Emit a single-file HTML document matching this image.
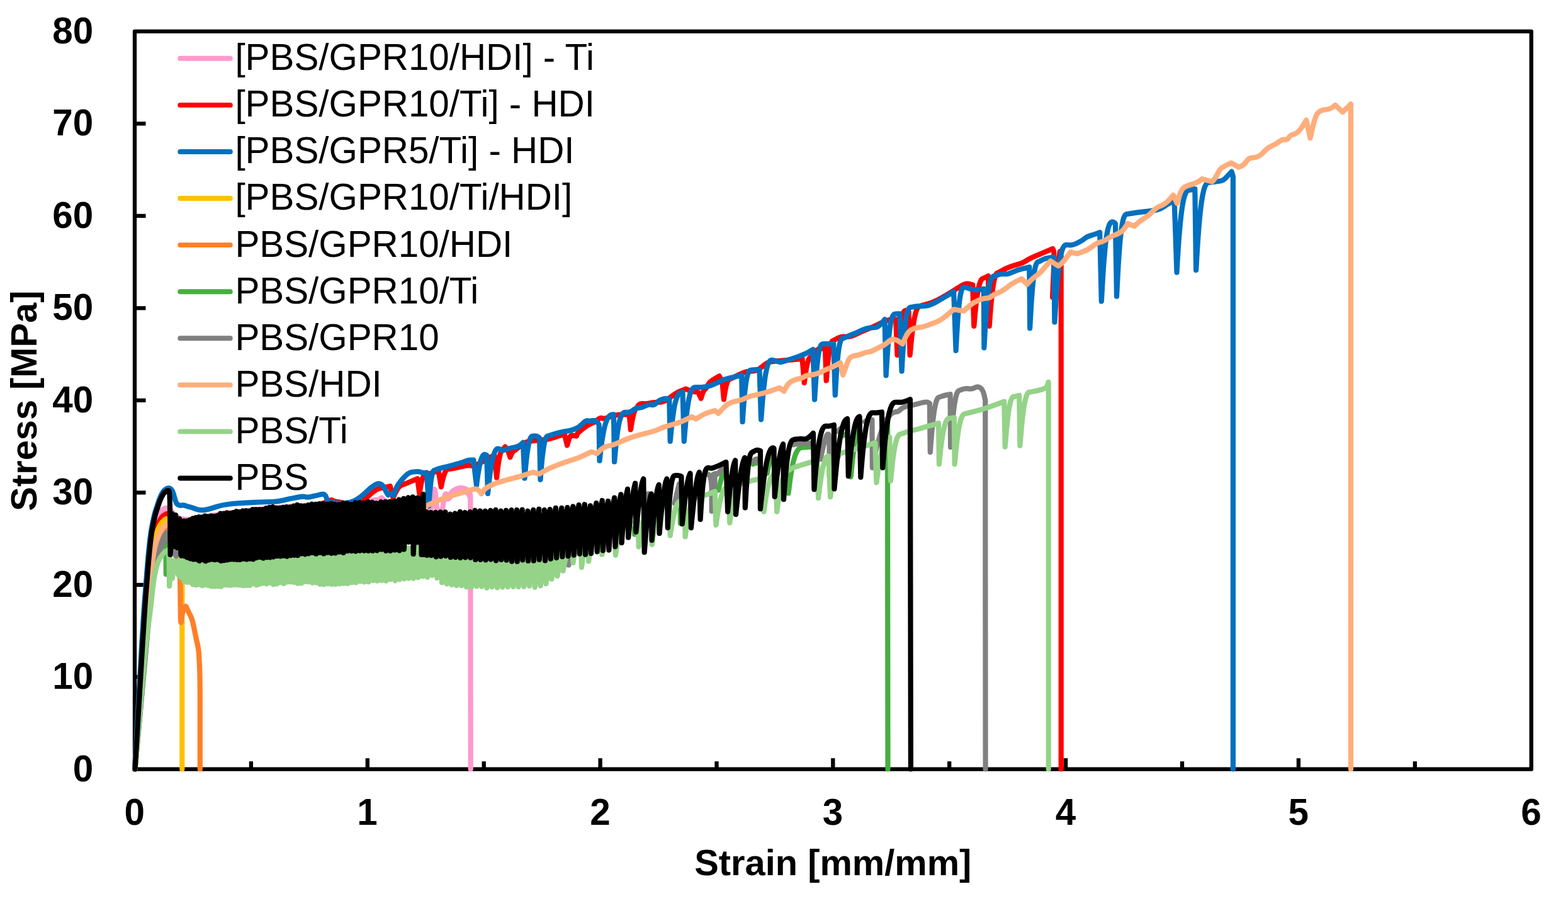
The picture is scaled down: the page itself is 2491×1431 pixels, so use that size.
<!DOCTYPE html>
<html lang="en">
<head>
<meta charset="utf-8">
<title>Stress-strain curves</title>
<style>
html,body{margin:0;padding:0;background:#fff;}
body{width:2491px;height:1431px;overflow:hidden;}
svg{display:block;}
text{font-family:"Liberation Sans",Arial,Helvetica,sans-serif;font-size:58.33px;fill:#000;}
.b{font-weight:bold;}
.t{font-size:57.8px;}
.c{fill:none;stroke-width:8.2;stroke-linejoin:round;stroke-linecap:round;}
.lg{stroke-width:7.9px;}
.ax{fill:none;stroke:#000;stroke-width:6.3;stroke-linejoin:round;stroke-linecap:butt;}
</style>
</head>
<body>
<svg width="2491" height="1431" viewBox="0 0 2491 1431">
<rect x="0" y="0" width="2491" height="1431" fill="#fff"/>
<g id="axes">
<rect class="ax" x="214.0" y="49.9" width="2218.7" height="1171.8"/>
<path class="ax" d="M214.0 1075.2H231.5M214.0 928.8H231.5M214.0 782.3H231.5M214.0 635.8H231.5M214.0 489.3H231.5M214.0 342.9H231.5M214.0 196.4H231.5M398.9 1221.7V1209.2M583.8 1221.7V1204.2M768.7 1221.7V1209.2M953.6 1221.7V1204.2M1138.5 1221.7V1209.2M1323.3 1221.7V1204.2M1508.2 1221.7V1209.2M1693.1 1221.7V1204.2M1878.0 1221.7V1209.2M2062.9 1221.7V1204.2M2247.8 1221.7V1209.2"/>
</g>
<g id="series">
<path class="c" stroke="#FF99CC" d="M214.5 1221.5Q229 960 232.5 930Q236 900 238 880Q240 860 242.5 847.5Q245 835 248 826.5Q251 818 254.5 813.5Q258 809 261.5 807.5Q265 806 268 808Q271 810 275.5 815.5Q280 821 287.5 823.8Q295 826.5 309 823.8Q323 821 338.5 818.5Q354 816 384.5 812Q415 808 447.5 805.5Q480 803 520 801.5Q560 800 575 798Q590 796 593.7 794.6Q597.3 793.1 599.7 794.3Q602.1 795.5 603.7 792.7Q605.4 789.9 607 791.1Q608.6 792.3 610.2 794.7Q611.8 797.1 625.9 796.6Q640 796 658 798Q676 800 680.5 805.9L684.9 811.8L686.1 800.9Q687.3 790.1 688.2 783.5Q689.1 776.9 690 776.9Q690.9 776.9 691.8 784.1Q692.7 791.3 693.6 801.6L694.5 811.8L698.5 811.8L702.4 811.8L703.6 804Q704.8 796.1 705.7 790.4Q706.6 784.7 707.8 784.4Q709 784.1 710.2 785.9Q711.4 787.7 712.9 786.8Q714.4 785.9 715.9 783.8Q717.4 781.7 719.5 779.9Q721.6 778.1 725.3 776.4Q728.9 774.7 732.5 774.9Q736.1 775.2 739.1 776.1Q742.1 777.1 744 779.1Q746 781.1 746.7 784.4L747.4 787.7L747.5 1004.6L747.7 1221.5"/>
<path class="c" stroke="#FF99CC" d="M707.2 791.3Q712 793.7 713.8 791.3Q715.6 788.9 718 786.5Q720.4 784.1 724.7 781.7Q728.9 779.3 733.7 779.6Q738.5 779.9 741.5 782Q744.5 784.1 745.9 787.7L747.2 791.3"/>
<path class="c" stroke="#FF99CC" d="M243 850Q248 828 251 822Q254 816 257 813.5Q260 811 263 810.5Q266 810 268 811.5L270 813"/>
<path class="c" stroke="#FF0000" d="M214.5 1221.5Q231 960 234.5 930Q238 900 240 882.5Q242 865 244.5 853.5Q247 842 250 834.5Q253 827 256 823Q259 819 262 817.5L265 816L267.5 817.5Q270 819 275 827L280 835L290 832.5Q300 830 350 820Q400 810 450 806.5Q500 803 510.1 800.1Q520.2 797.1 523.4 795.5L526.6 793.9L529.8 795.5Q533 797.1 546.7 798.7Q560.4 800.4 568.4 797.9Q576.4 795.5 586.9 786.3Q597.3 777.1 602.9 775.8Q608.6 774.6 614.2 773.4L619.8 772.2L622.2 781.5L624.6 790.7L625.4 788.7Q626.2 786.7 627 785Q627.9 783.2 628.7 781.6Q629.5 780.1 630.3 778.7Q631.1 777.3 631.9 776.2Q632.7 775 633.5 774.1Q634.3 773.2 635.1 772.4Q635.9 771.7 636.7 771.2Q637.5 770.7 638.3 770.3Q639.1 770 639.9 769.9Q640.7 769.8 652 765L663.2 760.2L664.8 772.2L666.4 784.3L666.8 781.5Q667.2 778.8 667.6 776.3Q668 773.9 668.4 771.7Q668.8 769.5 669.2 767.6Q669.6 765.8 670 764.2Q670.4 762.6 670.8 761.3Q671.2 760 671.6 759Q672 758 672.4 757.2Q672.8 756.5 673.3 756.1Q673.7 755.6 674.1 755.5Q674.5 755.4 683 752.2Q691.5 749 694.1 749L696.7 749L698.8 761.2L700.9 773.4L701.5 770.4Q702 767.5 702.6 764.9Q703.2 762.3 703.8 760.1Q704.3 757.9 704.9 756Q705.5 754.1 706.1 752.6Q706.7 751.1 707.2 749.8Q707.8 748.6 708.4 747.8Q709 746.9 709.5 746.3Q710.1 745.7 710.7 745.3Q711.3 745 711.8 744.9Q712.4 744.8 717.7 744.3Q722.9 743.8 728.1 742.2Q733.4 740.7 739.7 739.6Q746 738.6 749.1 739.6Q752.3 740.7 758.6 737.5Q764.8 734.4 771.7 730.2Q778.5 726 782.1 724.9L785.8 723.9L787.4 741.3L789 758.7L789.5 754Q790 749.3 790.5 745.2Q791.1 741.1 791.6 737.6Q792.1 734.1 792.6 731.1Q793.2 728.1 793.7 725.7Q794.2 723.2 794.7 721.3Q795.2 719.4 795.8 718Q796.3 716.6 796.8 715.6Q797.3 714.7 797.9 714.2Q798.4 713.7 798.9 713.5Q799.4 713.4 801 711.5L802.6 709.5L804.7 712.5L806.8 715.5L808.6 720.8L810.5 726.2L810.8 725.2Q811.2 724.1 811.6 723.2Q812 722.3 812.4 721.5Q812.8 720.7 813.2 720Q813.6 719.3 814 718.7Q814.4 718.2 814.8 717.7Q815.2 717.2 815.6 716.8Q816 716.4 816.3 716.2Q816.7 715.9 817.1 715.8Q817.5 715.6 817.9 715.5Q818.3 715.5 823 711.3Q827.8 707.1 833 704Q838.2 700.8 844.5 700.3Q850.8 699.8 857.6 699.2Q864.4 698.7 869.7 697.7Q874.9 696.6 882.8 694Q890.7 691.4 893.8 690.8L896.9 690.3L899 698.8L901.1 707.3L901.5 705.8Q901.9 704.3 902.2 702.9Q902.6 701.6 903 700.4Q903.3 699.2 903.7 698.1Q904.1 697.1 904.4 696.2Q904.8 695.4 905.2 694.6Q905.5 693.9 905.9 693.4Q906.3 692.8 906.6 692.4Q907 692 907.4 691.8Q907.7 691.5 908.1 691.5L908.5 691.4L912.1 692L915.8 692.6L916 692Q916.2 691.4 916.4 690.8Q916.7 690.3 916.9 689.8Q917.1 689.3 917.3 688.9Q917.5 688.5 917.7 688.1Q917.9 687.8 918.1 687.5Q918.3 687.2 918.5 686.9Q918.8 686.7 919 686.6Q919.2 686.4 919.4 686.3Q919.6 686.2 919.8 686.2Q920 686.1 927.1 680.2Q934.2 674.3 939.5 672.5Q944.9 670.8 949.3 666.8Q953.7 662.8 956.3 664.1Q959 665.5 966.9 662.8Q974.9 660.2 979.3 659.3Q983.7 658.4 991.7 658.4L999.6 658.4L1000.8 670.3L1001.9 682.3L1002.5 679Q1003 675.7 1003.5 672.8Q1004 669.8 1004.5 667.3Q1005 664.7 1005.5 662.4Q1006 660.2 1006.5 658.3Q1007 656.4 1007.5 654.8Q1008 653.3 1008.5 652.1Q1009 650.9 1009.5 650Q1010 649.2 1010.5 648.6Q1011 648.1 1011.5 648Q1012 647.8 1013.8 644.2Q1015.6 640.7 1021.7 641.2Q1027.9 641.6 1032.4 640.3Q1036.8 638.9 1045.6 638.9Q1054.4 638.9 1061.5 633.6Q1068.6 628.3 1072.1 625.7Q1075.7 623 1082.7 620.4L1089.8 617.7L1093.3 619.5Q1096.9 621.3 1103.1 622.1L1109.2 623L1111.5 627.9L1113.7 632.8L1114.1 631.3Q1114.5 629.9 1114.9 628.6Q1115.3 627.3 1115.7 626.2Q1116.1 625.1 1116.5 624.1Q1116.8 623.1 1117.2 622.3Q1117.6 621.5 1118 620.8Q1118.4 620.1 1118.8 619.6Q1119.2 619.1 1119.6 618.7Q1120 618.3 1120.4 618.1Q1120.8 617.9 1121.2 617.8Q1121.6 617.7 1124.3 612Q1126.9 606.2 1134.9 601.8L1142.8 597.4L1145 601.4L1147.3 605.4L1148.6 619.9L1149.9 634.5L1150.4 630.7Q1151 626.9 1151.5 623.7Q1152 620.5 1152.6 617.9Q1153.1 615.2 1153.6 613.1Q1154.1 610.9 1154.7 609.3Q1155.2 607.6 1155.7 606.4Q1156.3 605.1 1156.8 604.3Q1157.3 603.4 1157.9 602.9Q1158.4 602.4 1158.9 602.2Q1159.5 601.9 1160 601.9Q1160.5 601.8 1167.6 598.3Q1174.7 594.7 1180.8 592.1Q1187 589.4 1195 589.4Q1202.9 589.4 1210.9 582.4Q1218.8 575.3 1225 574.4Q1231.2 573.5 1252.9 571.8L1274.5 570L1276.1 589L1277.7 608L1278.3 603.2Q1278.9 598.4 1279.5 594.3Q1280.1 590.2 1280.7 586.9Q1281.3 583.5 1281.9 580.8Q1282.5 578 1283 575.9Q1283.6 573.8 1284.2 572.2Q1284.8 570.7 1285.4 569.6Q1286 568.5 1286.6 567.9Q1287.2 567.2 1287.8 566.9Q1288.4 566.6 1289 566.5Q1289.6 566.5 1293.6 560.3Q1297.7 554.1 1304.3 553.7L1310.9 553.2L1311.8 578.9L1312.7 604.5L1313.3 597.1Q1313.9 589.8 1314.4 583.5Q1315 577.3 1315.6 572.1Q1316.1 567 1316.7 562.8Q1317.3 558.6 1317.9 555.4Q1318.4 552.1 1319 549.7Q1319.6 547.3 1320.2 545.7Q1320.7 544 1321.3 543Q1321.9 542 1322.5 541.5Q1323 541.1 1323.6 541Q1324.2 540.9 1330.4 537.3Q1336.6 533.8 1343.6 534.7Q1350.7 535.6 1359.5 531.1Q1368.4 526.7 1377.2 523.2Q1386.1 519.6 1393.1 516.1Q1400.2 512.6 1406.4 509.9Q1412.6 507.3 1417.9 507.3L1423.2 507.3L1424.3 535.6L1425.5 563.8L1426.2 555.7Q1426.8 547.5 1427.5 540.5Q1428.2 533.6 1428.9 527.9Q1429.6 522.1 1430.2 517.5Q1430.9 512.9 1431.6 509.2Q1432.3 505.6 1433 503Q1433.7 500.3 1434.3 498.5Q1435 496.6 1435.7 495.5Q1436.4 494.4 1437.1 493.9Q1437.7 493.4 1438.4 493.2Q1439.1 493.1 1441.3 494L1443.5 494.9L1444.6 529.4L1445.6 563.8L1446.5 554.8Q1447.3 545.8 1448.1 538.2Q1448.9 530.6 1449.7 524.3Q1450.6 518 1451.4 512.9Q1452.2 507.8 1453 503.8Q1453.9 499.8 1454.7 496.9Q1455.5 493.9 1456.3 491.9Q1457.1 489.9 1458 488.7Q1458.8 487.5 1459.6 486.9Q1460.4 486.3 1461.3 486.2Q1462.1 486.1 1464.7 485.2Q1467.4 484.3 1475.3 482.1Q1483.3 479.9 1493.9 474.1Q1504.5 468.4 1516 460.9Q1527.5 453.4 1531.9 451.6Q1536.3 449.8 1540.7 451.2L1545.2 452.5L1546.2 485.2L1547.3 517.9L1548.1 509.1Q1548.8 500.3 1549.6 492.8Q1550.4 485.4 1551.2 479.2Q1551.9 473 1552.7 468Q1553.5 463.1 1554.3 459.2Q1555.1 455.3 1555.8 452.4Q1556.6 449.6 1557.4 447.6Q1558.2 445.6 1558.9 444.4Q1559.7 443.2 1560.5 442.7Q1561.3 442.1 1562.1 442Q1562.8 441.9 1566.4 440.1L1569.9 438.3L1570.8 478.1L1571.7 517.9L1572.4 508.1Q1573.1 498.2 1573.8 489.9Q1574.5 481.6 1575.2 474.7Q1575.9 467.8 1576.6 462.3Q1577.3 456.7 1578 452.4Q1578.7 448 1579.5 444.8Q1580.2 441.6 1580.9 439.4Q1581.6 437.2 1582.3 435.9Q1583 434.5 1583.7 433.9Q1584.4 433.3 1585.1 433.2Q1585.8 433 1592 429.5Q1598.2 426 1604.4 423.8Q1610.6 421.5 1617.6 419.8Q1624.7 418 1629.1 414.9Q1633.5 411.8 1642.4 407.8Q1651.2 403.9 1661.8 399.4L1672.4 395L1673.8 398.1Q1675.1 401.2 1673.6 436.6L1672.1 471.9L1676.2 448.1Q1680.4 424.2 1682.2 411.8L1683.9 399.4L1684.8 403L1685.7 406.5L1685.7 814L1685.7 1221.5"/>
<path class="c" stroke="#0070C0" d="M214 1221.5Q221.2 1090 225.1 1025Q229.1 960 230.5 943.8Q231.9 927.6 232.9 913.7Q234 899.7 235.2 885.7Q236.5 871.7 238.1 857.8Q239.6 843.8 242.6 829.4Q245.6 815 248.1 807.8Q250.5 800.5 252.9 793.5Q255.4 786.5 258.2 782.2Q261 778 264.1 776.4Q267.2 774.7 269.4 775.4Q271.5 776 273.1 778.5Q274.8 781 276.2 786.5Q277.6 792 279 796.2Q280.4 800.5 283.2 801.9Q286 803.3 288.8 802.6Q291.6 802 294.8 803.2Q298 804.5 301.5 805.2Q305 806 310.9 808.4Q316.9 810.7 323.4 810.1Q330 809.5 341.9 805.5Q353.8 801.5 369.4 800Q385 798.5 404 797.8Q423 797 431.5 797Q440 797 450.5 794.5Q461 792 468 790.8Q475 789.5 478.5 788.9Q482 788.3 484.8 789.1Q487.5 790 490.2 789.6Q493 789.3 498 788.1Q503 787 508.2 785.6Q513.5 784.3 515.5 785.6Q517.6 787 519 792Q520.5 797 532.4 798.7Q544.3 800.4 555.5 797.9Q566.8 795.5 581.2 781.9Q595.7 768.2 601.3 768.2Q607 768.2 610.2 774.6Q613.4 781.1 615 783.6L616.6 786.2L619 784.8Q621.4 783.5 623.4 784.8L625.4 786.2L627.4 780.4Q629.5 774.6 631.9 770.6Q634.3 766.6 641.5 758.6Q648.7 750.5 654.4 749.8Q660 749 663.1 749Q666.3 749 668.9 750.1Q671.5 751.1 674.7 750.9L677.8 750.6L679.5 777.1L681.2 803.6L681.7 797Q682.1 790.5 682.6 784.9Q683 779.4 683.5 774.8Q684 770.2 684.4 766.4Q684.9 762.7 685.3 759.8Q685.8 757 686.3 754.8Q686.7 752.7 687.2 751.2Q687.6 749.7 688.1 748.8Q688.6 748 689 747.5Q689.5 747.1 689.9 747Q690.4 746.9 693 745.9Q695.6 744.8 700.4 743.5Q705.1 742.2 709.8 741.2Q714.5 740.1 719.8 738.6Q725 737 729.2 735.9Q733.4 734.9 738.6 732.8Q743.9 730.7 748.1 730.7L752.3 730.7L754.6 750.9L757 771.1L757.6 766Q758.3 760.9 758.9 756.4Q759.6 751.9 760.3 748.1Q760.9 744.3 761.6 741Q762.2 737.8 762.9 735.1Q763.5 732.5 764.2 730.4Q764.8 728.3 765.5 726.8Q766.2 725.3 766.8 724.2Q767.5 723.2 768.1 722.6Q768.8 722.1 769.4 721.9Q770.1 721.8 771.7 722.3L773.2 722.8L774.1 753.4L774.9 784L775.8 775.7Q776.6 767.4 777.5 760.4Q778.3 753.3 779.2 747.5Q780.1 741.7 780.9 737Q781.8 732.3 782.6 728.7Q783.5 725 784.4 722.3Q785.2 719.6 786.1 717.7Q786.9 715.9 787.8 714.7Q788.7 713.6 789.5 713.1Q790.4 712.6 791.2 712.5Q792.1 712.3 795.2 713.9L798.4 715.5L804.7 713.4Q811 711.3 817.3 710.5Q823.6 709.7 827.2 706.3L830.9 702.9L832.2 731.3L833.5 759.7L834.2 751.9Q834.8 744.1 835.5 737.5Q836.1 731 836.8 725.5Q837.4 720 838.1 715.6Q838.8 711.2 839.4 707.8Q840.1 704.3 840.7 701.8Q841.4 699.2 842 697.5Q842.7 695.7 843.3 694.7Q844 693.6 844.7 693.1Q845.3 692.6 846 692.5Q846.6 692.4 849.8 692.4Q852.9 692.4 855 694L857.1 695.6L857.8 728.7L858.5 761.8L859.1 753.8Q859.7 745.8 860.3 739Q860.9 732.2 861.5 726.5Q862.1 720.9 862.8 716.3Q863.4 711.8 864 708.2Q864.6 704.7 865.2 702.1Q865.8 699.4 866.4 697.6Q867.1 695.8 867.7 694.8Q868.3 693.7 868.9 693.2Q869.5 692.6 870.1 692.5Q870.7 692.4 875.5 690.8Q880.2 689.3 888 687.2Q895.9 685.1 901.1 684.6Q906.4 684 913.2 681.4Q920 678.8 925.4 673Q930.7 667.2 933.4 668.1Q936 669 941.3 668.1Q946.6 667.2 949.1 670.8L951.6 674.3L952 703L952.5 731.7L953.6 721.8Q954.7 711.9 955.8 703.9Q956.9 695.9 958.1 689.7Q959.2 683.5 960.3 678.9Q961.4 674.2 962.6 670.9Q963.7 667.6 964.8 665.3Q965.9 663.1 967 661.7Q968.2 660.4 969.3 659.7Q970.4 659 971.5 658.7Q972.7 658.5 973.8 658.4L974.9 658.4L975.5 696L976.1 733.5L977 722.9Q978 712.2 978.9 703.7Q979.8 695.1 980.7 688.5Q981.6 681.8 982.5 676.8Q983.4 671.8 984.3 668.3Q985.2 664.7 986.2 662.3Q987.1 659.9 988 658.4Q988.9 657 989.8 656.2Q990.7 655.5 991.6 655.2Q992.5 654.9 993.4 654.9Q994.3 654.9 997.9 654.9Q1001.4 654.9 1005.8 651.3Q1010.3 647.8 1014.7 647.8Q1019.1 647.8 1025.3 644.7Q1031.5 641.6 1035 642.9Q1038.5 644.2 1043 639.8Q1047.4 635.4 1051.8 634.1Q1056.2 632.8 1059.8 633.2L1063.3 633.6L1064 667.2L1064.7 700.8L1065.7 690.3Q1066.7 679.7 1067.7 671.3Q1068.7 662.9 1069.7 656.3Q1070.6 649.7 1071.6 644.8Q1072.6 639.8 1073.6 636.3Q1074.6 632.8 1075.6 630.4Q1076.6 628 1077.6 626.6Q1078.6 625.1 1079.6 624.4Q1080.5 623.7 1081.5 623.4Q1082.5 623.1 1083.5 623.1L1084.5 623L1085.6 661.9L1086.8 700.8L1087.7 689.2Q1088.7 677.6 1089.6 668.3Q1090.6 659 1091.5 651.7Q1092.5 644.5 1093.4 639Q1094.4 633.6 1095.3 629.7Q1096.3 625.8 1097.2 623.2Q1098.1 620.6 1099.1 619Q1100 617.4 1101 616.6Q1101.9 615.8 1102.9 615.5Q1103.8 615.2 1104.8 615.1Q1105.7 615.1 1113.7 615.1Q1121.6 615.1 1128.7 612.4Q1135.8 609.8 1143.7 605.8Q1151.7 601.8 1158.7 600.5Q1165.8 599.2 1172 597.4L1178.2 595.6L1178.9 632.8L1179.6 669.9L1180.3 658.7Q1181.1 647.6 1181.8 638.7Q1182.5 629.8 1183.2 622.8Q1184 615.9 1184.7 610.7Q1185.4 605.4 1186.1 601.7Q1186.9 598 1187.6 595.4Q1188.3 592.9 1189 591.4Q1189.8 589.9 1190.5 589.1Q1191.2 588.3 1191.9 588Q1192.6 587.8 1193.4 587.7Q1194.1 587.7 1200.3 587.2L1206.5 586.8L1207.8 626.6L1209.1 666.3L1210.1 653.5Q1211 640.7 1211.9 630.5Q1212.8 620.2 1213.8 612.2Q1214.7 604.2 1215.6 598.2Q1216.5 592.2 1217.5 587.9Q1218.4 583.6 1219.3 580.7Q1220.3 577.8 1221.2 576.1Q1222.1 574.3 1223 573.4Q1224 572.5 1224.9 572.2Q1225.8 571.9 1226.8 571.8Q1227.7 571.8 1233.9 573.5L1240.1 575.3L1248.9 572.7Q1257.7 570 1268.9 566Q1280 562.1 1285.7 558.5L1291.5 555L1292.8 594.8L1294.1 634.6L1294.8 622.6Q1295.6 610.6 1296.3 601Q1297 591.4 1297.7 584Q1298.4 576.5 1299.1 570.9Q1299.8 565.3 1300.5 561.2Q1301.2 557.2 1301.9 554.5Q1302.6 551.8 1303.3 550.2Q1304 548.6 1304.7 547.7Q1305.5 546.9 1306.2 546.6Q1306.9 546.3 1307.6 546.2Q1308.3 546.2 1316.2 546.2L1324.2 546.2L1325.5 586.8L1326.8 627.5L1327.5 615.3Q1328.2 603 1328.8 593.3Q1329.5 583.5 1330.2 575.9Q1330.8 568.2 1331.5 562.5Q1332.1 556.8 1332.8 552.7Q1333.5 548.6 1334.1 545.8Q1334.8 543.1 1335.5 541.4Q1336.1 539.8 1336.8 538.9Q1337.5 538 1338.1 537.7Q1338.8 537.4 1339.4 537.4Q1340.1 537.3 1343.6 535.6Q1347.2 533.8 1354.2 531.1Q1361.3 528.5 1369.3 524.5Q1377.2 520.5 1386.1 520.5Q1394.9 520.5 1400.2 513.9L1405.5 507.3L1406.6 551.9L1407.6 596.5L1408.4 583.3Q1409.2 570 1410 559.3Q1410.7 548.7 1411.5 540.4Q1412.3 532.1 1413.1 525.9Q1413.9 519.6 1414.6 515.2Q1415.4 510.7 1416.2 507.7Q1417 504.7 1417.7 502.9Q1418.5 501.1 1419.3 500.2Q1420.1 499.2 1420.9 498.9Q1421.6 498.5 1422.4 498.5Q1423.2 498.4 1426.3 498.4L1429.4 498.4L1431 544L1432.6 589.5L1433.3 575.7Q1434.1 561.9 1434.9 550.9Q1435.6 539.9 1436.4 531.3Q1437.2 522.7 1437.9 516.2Q1438.7 509.8 1439.5 505.2Q1440.2 500.5 1441 497.4Q1441.8 494.3 1442.6 492.5Q1443.3 490.6 1444.1 489.6Q1444.9 488.6 1445.6 488.3Q1446.4 487.9 1447.2 487.9Q1447.9 487.8 1452.4 486.9Q1456.8 486.1 1466.5 486.1Q1476.2 486.1 1486.8 479.9Q1497.4 473.7 1506.3 468.4L1515.1 463.1L1516.9 509.9L1518.6 556.8L1519.3 543.1Q1520.1 529.5 1520.8 518.5Q1521.5 507.6 1522.2 499.1Q1522.9 490.6 1523.6 484.2Q1524.3 477.8 1525 473.2Q1525.7 468.6 1526.4 465.5Q1527.1 462.5 1527.8 460.6Q1528.5 458.7 1529.2 457.8Q1530 456.8 1530.7 456.5Q1531.4 456.1 1532.1 456.1Q1532.8 456 1540.7 458.7Q1548.7 461.3 1555.8 460L1562.8 458.7L1563.1 505.5L1563.4 552.4L1564.2 536.9Q1565.1 521.5 1565.9 509.1Q1566.8 496.7 1567.7 487.1Q1568.5 477.4 1569.4 470.2Q1570.2 463 1571.1 457.8Q1571.9 452.6 1572.8 449.1Q1573.7 445.6 1574.5 443.5Q1575.4 441.4 1576.2 440.3Q1577.1 439.2 1577.9 438.8Q1578.8 438.4 1579.7 438.4Q1580.5 438.3 1584.9 436.6Q1589.4 434.8 1595.5 435.2Q1601.7 435.7 1608.8 432.1Q1615.9 428.6 1625.6 426.4L1635.3 424.2L1635.8 472.8L1636.2 521.4L1636.9 507Q1637.7 492.7 1638.4 481.2Q1639.2 469.7 1640 460.7Q1640.7 451.7 1641.5 445Q1642.2 438.3 1643 433.4Q1643.7 428.6 1644.5 425.4Q1645.2 422.1 1646 420.2Q1646.7 418.2 1647.5 417.2Q1648.2 416.2 1649 415.8Q1649.7 415.5 1650.5 415.4Q1651.2 415.4 1655.6 412.7Q1660.1 410.1 1667.1 409.2L1674.2 408.3L1674.8 460L1675.4 511.7L1676.4 495Q1677.4 478.4 1678.4 465.1Q1679.4 451.7 1680.4 441.4Q1681.4 431 1682.4 423.2Q1683.4 415.4 1684.4 409.8Q1685.4 404.2 1686.4 400.4Q1687.4 396.7 1688.4 394.4Q1689.4 392.2 1690.4 391Q1691.4 389.8 1692.4 389.4Q1693.4 389 1694.4 388.9Q1695.4 388.8 1699.8 389.3Q1704.3 389.7 1712.1 385.7Q1720 381.8 1723 378.9Q1726 376.1 1732.1 374.3Q1738.3 372.6 1742.8 370.8L1747.2 369L1748.5 423.8L1749.8 478.6L1750.8 461.5Q1751.7 444.4 1752.6 430.7Q1753.5 417 1754.5 406.3Q1755.4 395.6 1756.3 387.6Q1757.2 379.6 1758.2 373.8Q1759.1 368 1760 364.2Q1761 360.3 1761.9 358Q1762.8 355.7 1763.7 354.5Q1764.7 353.3 1765.6 352.8Q1766.5 352.4 1767.5 352.3Q1768.4 352.3 1770.2 353.6L1771.9 354.9L1773 412.8L1774 470.7L1774.9 453Q1775.8 435.2 1776.6 421Q1777.5 406.9 1778.4 395.8Q1779.2 384.7 1780.1 376.4Q1781 368.1 1781.8 362.2Q1782.7 356.2 1783.6 352.2Q1784.4 348.2 1785.3 345.8Q1786.2 343.4 1787 342.2Q1787.9 340.9 1788.8 340.5Q1789.6 340 1790.5 339.9Q1791.4 339.9 1799.3 338.6Q1807.3 337.2 1816.1 336.3Q1825 335.5 1833.8 334.1Q1842.6 332.8 1849.7 327.9Q1856.8 323.1 1861.2 321.3L1865.6 319.5L1867.6 376.1L1869.5 432.7L1870.5 415Q1871.6 397.2 1872.6 383Q1873.7 368.8 1874.7 357.8Q1875.8 346.7 1876.8 338.4Q1877.8 330.1 1878.9 324.2Q1879.9 318.2 1881 314.2Q1882 310.2 1883.1 307.8Q1884.1 305.4 1885.1 304.2Q1886.2 302.9 1887.2 302.5Q1888.3 302 1889.3 301.9Q1890.4 301.9 1894.3 301L1898.3 300.1L1899.2 364.6L1900.1 429.1L1901.2 410.2Q1902.3 391.3 1903.4 376.1Q1904.5 361 1905.6 349.2Q1906.7 337.4 1907.8 328.5Q1908.9 319.7 1910 313.3Q1911.1 307 1912.2 302.7Q1913.3 298.4 1914.4 295.9Q1915.5 293.3 1916.7 291.9Q1917.8 290.6 1918.9 290.1Q1920 289.6 1921.1 289.6Q1922.2 289.5 1926.6 289.1Q1931 288.6 1937.2 287.7Q1943.4 286.8 1946.9 282.9Q1950.5 278.9 1953.6 275.8L1956.6 272.7L1957.8 276.7L1958.9 280.7L1958.9 751.1L1958.9 1221.5"/>
<path class="c" stroke="#FFC000" d="M214.5 1221.5Q228 1000 231 967.5Q234 935 236.5 917.5Q239 900 241 884Q243 868 245.5 858Q248 848 251 841Q254 834 257 830Q260 826 262.8 824.5Q265.5 823 268.8 826.5Q272 830 276 840Q280 850 283 856Q286 862 287.6 871L289.3 880L289.3 1050.8L289.3 1221.5"/>
<path class="c" stroke="#FF7F27" d="M214.5 1221.5Q236 960 239.2 932.5Q242.5 905 244.8 890.5Q247 876 249.5 867Q252 858 255 852Q258 846 260 843.2Q262 840.5 264.2 839.2Q266.5 838 269.2 843Q272 848 276 864Q280 880 283 890Q286 900 286.2 930Q286.5 960 286.8 977.5Q287 995 288 985Q289 975 291.6 968Q294.3 961 295.6 963.5Q297 966 298.5 969.5Q300 973 302.4 977.5Q304.8 982 306.4 989Q308 996 309.5 1003.5Q311 1011 312 1015.5Q313 1020 314.1 1025Q315.3 1030 315.9 1037.5Q316.4 1045 316.9 1055.5Q317.4 1066 317.6 1083L317.8 1100L317.8 1160.8L317.8 1221.5"/>
<path class="c" stroke="#45AF3F" d="M214.5 1221.5Q238 960 241 936Q244 912 247 898.5Q250 885 252.5 877.5Q255 870 257.5 865.5Q260 861 261.7 859.5L263.4 858L263.6 885L263.8 912"/>
<path class="c" stroke="#45AF3F" d="M1007.7 836.1L1008.2 848.6"/>
<path class="c" stroke="#45AF3F" d="M1080.7 778.2L1080.9 831.3"/>
<path class="c" stroke="#45AF3F" d="M1133.6 753.1L1136.5 752.2"/>
<path class="c" stroke="#45AF3F" d="M1141.3 778.2Q1146.1 758.9 1147.6 754.1L1149 749.3"/>
<path class="c" stroke="#45AF3F" d="M1196.4 737.1Q1199.3 735.7 1201.5 735.5L1203.6 735.2"/>
<path class="c" stroke="#45AF3F" d="M1218.6 751.6Q1221.5 737.1 1222.9 731.4L1224.4 725.6"/>
<path class="c" stroke="#45AF3F" d="M1251.8 746.8L1252.2 765.1L1252.5 783.4L1253.7 773.6Q1254.9 763.7 1256.1 755.8Q1257.3 747.9 1258.5 741.8Q1259.7 735.6 1260.9 731Q1262.1 726.4 1263.3 723Q1264.5 719.7 1265.7 717.5Q1266.9 715.3 1268.1 713.9Q1269.3 712.6 1270.5 711.9Q1271.6 711.2 1272.8 711Q1274 710.7 1275.2 710.7Q1276.4 710.6 1282.5 710.1L1288.5 709.7"/>
<path class="c" stroke="#45AF3F" d="M1339.1 691.8L1343.9 689.9"/>
<path class="c" stroke="#45AF3F" d="M1351.2 727.5L1351.4 742.4L1351.6 757.4L1352.6 747.5Q1353.6 737.6 1354.5 728.9Q1355.5 720.1 1356.5 712.6Q1357.4 705.1 1358.4 698.9Q1359.4 692.8 1360.3 688.2Q1361.3 683.7 1362.3 681.5L1363.2 679.3"/>
<path class="c" stroke="#45AF3F" d="M1401.8 669.6L1410 665.8L1410.2 943.6L1410.5 1221.5"/>
<path class="c" stroke="#808080" d="M214.5 1221.5Q238 960 241 932.5Q244 905 246.5 892.5Q249 880 251.5 872Q254 864 256.5 858.5Q259 853 261 850.2Q263 847.5 264.8 846.2Q266.5 845 268.2 846.5Q270 848 271.5 856Q273 864 276.2 873L279.5 882"/>
<path class="c" stroke="#808080" d="M249 893Q254 874 256.5 868Q259 862 261.5 859Q264 856 266 855L268 854"/>
<path class="c" stroke="#808080" d="M279.2 872L279.2 883"/>
<path class="c" stroke="#808080" d="M662 862.5L667 862.5"/>
<path class="c" stroke="#808080" d="M903.3 880L903.3 897.5"/>
<path class="c" stroke="#808080" d="M1029.9 784Q1028.7 797.5 1028.3 800.4L1028 803.3"/>
<path class="c" stroke="#808080" d="M1071.9 799.4Q1075.2 783 1077.2 775.8L1079.1 768.6"/>
<path class="c" stroke="#808080" d="M1123.9 753.1Q1130.7 752.2 1130.7 782.1L1130.7 812"/>
<path class="c" stroke="#808080" d="M1135.5 753L1135.5 790"/>
<path class="c" stroke="#808080" d="M1139.4 753.1L1149 743.5"/>
<path class="c" stroke="#808080" d="M1196.4 733.3Q1199.3 729.4 1201.5 729.2L1203.6 728.9"/>
<path class="c" stroke="#808080" d="M1260 706.3Q1266.8 704.6 1271.6 704.4Q1276.4 704.2 1282.5 704L1288.5 703.9"/>
<path class="c" stroke="#808080" d="M1303.4 729.4Q1308.3 706.3 1310.7 698.6Q1313.1 690.9 1314.5 689.9Q1316 688.9 1316.7 690.4Q1317.4 691.8 1317.6 724.1L1317.7 756.4"/>
<path class="c" stroke="#808080" d="M1330.4 685.1Q1336.2 679.3 1340.1 677.8L1343.9 676.4"/>
<path class="c" stroke="#808080" d="M1373.8 669.6Q1381.5 665.8 1383.5 666.3L1385.4 666.8L1385.6 704.8L1385.9 742.9L1388 732.6Q1390 722.3 1392.1 713.5Q1394.2 704.8 1396.3 697.5Q1398.3 690.2 1400.4 684.4Q1402.5 678.5 1404.6 674Q1406.6 669.4 1408.7 666Q1410.8 662.7 1412.9 660.4Q1414.9 658 1417 656.6Q1419.1 655.2 1421.2 654.6Q1423.2 653.9 1425.3 653.8Q1427.4 653.6 1430.9 650.1Q1434.4 646.6 1443.3 644.8Q1452.1 643 1461.8 640.4Q1471.6 637.7 1474.2 639.1L1476.9 640.4L1477.3 679.3L1477.8 718.2L1478.5 708Q1479.3 697.9 1480 689.3Q1480.8 680.7 1481.5 673.6Q1482.3 666.5 1483 660.8Q1483.8 655.1 1484.5 650.6Q1485.3 646.1 1486 642.8Q1486.8 639.5 1487.5 637.2Q1488.3 635 1489 633.6Q1489.8 632.2 1490.5 631.6Q1491.3 630.9 1492 630.8Q1492.8 630.7 1496.3 629.3Q1499.9 628 1504.7 627.1L1509.6 626.2L1509.8 668.2L1510.1 710.2L1510.8 699.8Q1511.6 689.3 1512.3 680.5Q1513 671.7 1513.7 664.3Q1514.5 657 1515.2 651.1Q1515.9 645.2 1516.6 640.6Q1517.4 636 1518.1 632.6Q1518.8 629.2 1519.5 626.8Q1520.3 624.5 1521 623.1Q1521.7 621.7 1522.4 621Q1523.2 620.3 1523.9 620.2Q1524.6 620.1 1529 618.3Q1533.4 616.5 1538.7 617.4Q1544 618.3 1548.9 615.6Q1553.8 613 1557.7 616.1Q1561.7 619.2 1563.5 627.6L1565.3 636L1565.4 928.7L1565.6 1221.5"/>
<path class="c" stroke="#FFAD7B" d="M214.5 1221.5Q232.5 960 236.8 930Q241 900 243 886Q245 872 247.5 863.5Q250 855 253 848.5Q256 842 258.5 838.8Q261 835.5 263.2 834L265.5 832.6L268.2 834.3Q271 836 278 843Q285 850 302.5 850Q320 850 410 845Q500 840 570 830Q640 820 658.4 811.8Q676.9 803.6 692 796.8Q707.2 790 712.9 788.4Q718.7 786.8 726.1 784.7Q733.4 782.6 738.6 781Q743.9 779.4 749.1 777.9Q754.4 776.3 757 776.8Q759.6 777.3 762.2 780.8L764.8 784.2L767.5 780.2Q770.1 776.3 772.7 774.7Q775.3 773.2 780.6 770.5Q785.8 767.9 796.3 764.8Q806.8 761.6 817.3 759Q827.8 756.4 837.2 753.2L846.6 750.1L851.9 751.4L857.1 752.7L863.4 748.8Q869.7 744.8 880.2 740.7Q890.7 736.5 898.5 733.8Q906.4 731.2 913.2 729.1Q920 727 929.8 722.3L939.5 717.6L944 718.9L948.4 720.3L953.7 715Q959 709.6 966.9 708.3Q974.9 707 983.7 702.6Q992.6 698.2 1003.2 694.6Q1013.8 691.1 1027 688Q1040.3 684.9 1047.4 681.4Q1054.4 677.8 1066.8 674.7Q1079.2 671.6 1088.9 666.8L1098.6 661.9L1102.2 663.7L1105.7 665.5L1112.8 661Q1119.9 656.6 1127.8 654.4L1135.8 652.2L1138.4 654.4L1141.1 656.6L1149 648.2Q1157 639.8 1167.6 637.6Q1178.2 635.4 1184.4 632.3Q1190.6 629.2 1202.1 627Q1213.5 624.8 1225.9 620.4L1238.3 616L1241.8 618.6L1245.4 621.3L1249.8 613.3Q1254.2 605.4 1264.8 602.7Q1275.4 600.1 1277.7 598.3Q1280 596.5 1288 595.7Q1295.9 594.8 1303.9 590.8Q1311.8 586.8 1318 584.6Q1324.2 582.4 1329.5 579.3L1334.8 576.2L1337 585.9L1339.2 595.7L1343.2 584.2Q1347.2 572.7 1349.8 569.1Q1352.5 565.6 1358.7 564.7Q1364.9 563.8 1370.2 561.6Q1375.5 559.4 1379.9 559Q1384.3 558.5 1388.7 555.9Q1393.1 553.2 1399.3 550.6Q1405.5 547.9 1410.8 543.1Q1416.1 538.2 1420.5 539.1Q1425 540 1429.4 543.1L1433.8 546.2L1438.2 536.4Q1442.6 526.7 1447.9 523.6Q1453.2 520.5 1459.4 520.1Q1465.6 519.6 1472.7 517Q1479.8 514.3 1485.9 512.1Q1492.1 509.9 1497.4 506Q1502.7 502 1508.9 496.7L1515.1 491.4L1523.1 492.7L1531 494L1538.1 487.4Q1545.2 480.8 1554 477.2Q1562.8 473.7 1567.3 473.7Q1571.7 473.7 1575.2 470.6Q1578.7 467.5 1584.9 465.3Q1591.1 463.1 1599.1 456.9Q1607 450.7 1615 446.7L1622.9 442.8L1627.4 447.2L1631.8 451.6L1636.2 446.7Q1640.6 441.9 1646.8 437.5Q1653 433 1656.5 428.6Q1660.1 424.2 1664.5 419.3L1668.9 414.5L1675.1 418.4L1681.3 422.4L1684.8 419.8Q1688.3 417.1 1694.5 408.7L1700.7 400.3L1706 401.7L1711.3 403L1720.4 399.7Q1729.5 396.4 1735.7 391.1Q1741.9 385.8 1748.1 384.5Q1754.2 383.2 1758.7 379.6Q1763.1 376.1 1772.8 372.6Q1782.5 369 1786.9 362L1791.4 354.9L1796.7 357.1L1802 359.3L1807.3 354.5Q1812.6 349.6 1818.8 346.1Q1825 342.5 1831.1 335.9Q1837.3 329.3 1841.7 327.9Q1846.2 326.6 1850.6 323.5Q1855 320.4 1859.4 315.1L1863.8 309.8L1866.9 316.5L1870 323.1L1873.1 312.5Q1876.2 301.9 1879.8 298.8Q1883.3 295.7 1892.1 293Q1901 290.4 1905.4 287.3L1909.8 284.2L1917.8 286.4L1925.7 288.6L1928.4 285.5Q1931 282.4 1934.6 275.4Q1938.1 268.3 1942.5 265.6Q1946.9 263 1951.3 260.8L1955.8 258.6L1962 262.1L1968.1 265.6L1972.6 263.4Q1977 261.2 1980.5 255.9Q1984 250.6 1989.4 250.6Q1994.7 250.6 1999.1 248.4Q2003.5 246.2 2009.1 239.9Q2014.7 233.7 2021.1 231.3Q2027.5 228.9 2032.2 224.9Q2037 221 2041 221.8Q2044.9 222.5 2047.3 218.6Q2049.7 214.6 2056.1 213Q2062.4 211.4 2068.8 201.1L2075.2 190.8L2078.3 205.1L2081.5 219.4L2085.5 201.9Q2089.5 184.4 2093.4 179.6Q2097.4 174.9 2105.4 174.1Q2113.3 173.3 2117.3 170.1L2121.3 166.9L2127.1 172.5L2133 178L2139.5 171.7L2145.9 165.3L2145.9 693.4L2146 1221.5"/>
<path class="c" stroke="#94D388" d="M214.5 1221.5Q222.5 1130 226.2 1085Q230 1040 233 1015Q236 990 238.1 975Q240.2 960 241.6 943.8Q243 927.6 245.7 913.7Q248.3 899.7 251.1 892.7Q253.9 885.7 257.4 881.5Q260.9 877.3 263.7 875.4Q266.5 873.5 267.5 873.4Q268.5 873.2 268.8 902L269.1 930.8L269.6 924.5Q270.1 918.2 270.6 912.5Q271.1 906.8 271.6 901.9Q272.1 897 272.6 893.7L273.1 890.4L273.4 904.6L273.7 918.9L274.2 914.6Q274.7 910.2 275.2 906.3Q275.7 902.4 276.3 899.1Q276.8 895.7 277.3 893.4L277.8 891.1L278.1 899.7L278.4 908.3L278.9 905.8Q279.4 903.3 279.9 901Q280.4 898.8 280.9 896.8Q281.4 894.9 281.9 893.6L282.4 892.3L282.7 902.6L283 913L283.6 908.7Q284.1 904.5 284.6 900.7Q285.1 896.9 285.6 893.6Q286.1 890.3 286.6 888.1L287.1 885.8L287.4 901.5L287.7 917.3L288.3 911.7Q288.8 906.2 289.3 901.2Q289.8 896.2 290.3 891.9Q290.8 887.6 291.3 884.7L291.9 881.7L292.2 902.7L292.5 923.6L293 917.2Q293.5 910.8 294 905Q294.5 899.2 295 894.2Q295.6 889.3 296.1 885.9L296.6 882.5L296.9 903.7L297.2 924.8L297.7 918Q298.2 911.1 298.8 905Q299.3 898.8 299.8 893.5Q300.3 888.2 300.8 884.6L301.4 881L301.7 903L302 925L302.5 918Q303 911 303.5 904.7Q304 898.4 304.6 893Q305.1 887.6 305.6 883.9L306.1 880.2L306.4 904.3L306.7 928.4L307.3 920.8Q307.8 913.3 308.3 906.5Q308.8 899.7 309.4 893.9Q309.9 888 310.4 884.1L311 880.1L311.3 904.6L311.6 929.2L312.1 921.4Q312.6 913.7 313.1 906.7Q313.7 899.7 314.2 893.8Q314.7 887.8 315.3 883.7L315.8 879.6L316.1 904L316.4 928.3L316.9 920.8Q317.4 913.2 318 906.4Q318.5 899.6 319 893.7Q319.6 887.9 320.1 883.9L320.6 879.9L320.9 905L321.2 930.2L321.8 922.3Q322.3 914.5 322.8 907.4Q323.4 900.4 323.9 894.3Q324.5 888.3 325 884.2L325.5 880L325.8 904.3L326.1 928.6L326.7 920.8Q327.2 912.9 327.7 905.9Q328.3 898.8 328.8 892.8Q329.3 886.8 329.9 882.6L330.4 878.5L330.7 904.2L331 930L331.6 922.2Q332.1 914.4 332.6 907.4Q333.2 900.3 333.7 894.3Q334.3 888.3 334.8 884.2L335.4 880.1L335.7 905.7L336 931.3L336.5 923.2Q337 915.1 337.6 907.8Q338.1 900.5 338.7 894.3Q339.2 888 339.8 883.7L340.3 879.5L340.6 905.5L340.9 931.5L341.5 923.4Q342 915.2 342.5 907.9Q343.1 900.5 343.6 894.2Q344.2 887.9 344.7 883.6L345.3 879.3L345.6 905.3L345.9 931.2L346.4 923Q347 914.7 347.5 907.2Q348.1 899.7 348.6 893.4Q349.2 887 349.7 882.6L350.3 878.2L350.6 905L350.9 931.7L351.4 923.4Q352 915 352.5 907.5Q353.1 900 353.6 893.5Q354.2 887 354.8 882.6L355.3 878.2L355.6 903.7L355.9 929.2L356.5 921.4Q357 913.6 357.6 906.6Q358.1 899.6 358.7 893.6Q359.2 887.6 359.8 883.5L360.4 879.4L360.7 904.3L361 929.3L361.5 921.1Q362.1 913 362.6 905.6Q363.2 898.2 363.8 891.9Q364.3 885.6 364.9 881.3L365.4 877L365.7 903.3L366 929.7L366.6 921.8Q367.2 914 367.7 906.9Q368.3 899.8 368.8 893.7Q369.4 887.6 370 883.5L370.5 879.3L370.8 904.2L371.1 929L371.7 921.1Q372.3 913.2 372.8 906Q373.4 898.8 374 892.7Q374.5 886.5 375.1 882.4L375.7 878.2L376 903.6L376.3 929L376.8 921Q377.4 913 378 905.8Q378.5 898.5 379.1 892.3Q379.7 886.1 380.2 881.9L380.8 877.6L381.1 903.5L381.4 929.4L382 921.2Q382.5 913 383.1 905.7Q383.7 898.3 384.3 892Q384.8 885.7 385.4 881.3L386 877L386.3 903.5L386.6 930.1L387.2 921.9Q387.7 913.7 388.3 906.3Q388.9 898.9 389.5 892.6Q390 886.2 390.6 881.9L391.2 877.6L391.5 903.7L391.8 929.9L392.4 921.7Q392.9 913.6 393.5 906.2Q394.1 898.9 394.7 892.6Q395.2 886.3 395.8 882L396.4 877.7L396.7 903.7L397 929.8L397.6 921.7Q398.2 913.7 398.8 906.4Q399.3 899.1 399.9 892.8Q400.5 886.6 401.1 882.3L401.7 878.1L402 902.6L402.3 927L402.8 919.3Q403.4 911.5 404 904.5Q404.6 897.5 405.2 891.6Q405.8 885.6 406.3 881.5L406.9 877.4L407.2 903.3L407.5 929.2L408.1 921.2Q408.7 913.1 409.3 905.9Q409.9 898.7 410.5 892.5Q411.1 886.3 411.6 882L412.2 877.8L412.5 902.7L412.8 927.7L413.4 919.9Q414 912.1 414.6 905.1Q415.2 898 415.8 892Q416.4 886 417 881.9L417.6 877.8L417.9 902.1L418.2 926.4L418.8 918.7Q419.4 911 419.9 904Q420.5 897.1 421.1 891.1Q421.7 885.2 422.3 881.1L422.9 877L423.2 902.2L423.5 927.3L424.1 919.5Q424.7 911.7 425.3 904.6Q425.9 897.6 426.5 891.5Q427.1 885.5 427.7 881.4L428.3 877.2L428.6 901.4L428.9 925.6L429.5 917.8Q430.1 909.9 430.7 902.9Q431.3 895.8 431.9 889.7Q432.5 883.7 433.1 879.6L433.7 875.4L434 901.8L434.3 928.2L434.9 920.2Q435.5 912.2 436.1 905Q436.7 897.8 437.3 891.6Q437.9 885.4 438.5 881.2L439.1 877L439.4 902.2L439.7 927.4L440.3 919.1Q441 910.9 441.6 903.4Q442.2 896 442.8 889.6Q443.4 883.2 444 878.9L444.6 874.5L444.9 899.9L445.2 925.2L445.8 917.4Q446.4 909.7 447 902.6Q447.6 895.6 448.3 889.6Q448.9 883.6 449.5 879.4L450.1 875.3L450.4 901.1L450.7 926.9L451.3 918.8Q451.9 910.6 452.5 903.3Q453.1 896 453.8 889.7Q454.4 883.4 455 879.1L455.6 874.8L455.9 899.7L456.2 924.5L456.8 917Q457.4 909.5 458.1 902.7Q458.7 895.9 459.3 890.1Q459.9 884.3 460.5 880.3L461.2 876.4L461.5 900.3L461.8 924.3L462.4 916.7Q463 909.1 463.6 902.2Q464.3 895.3 464.9 889.4Q465.5 883.5 466.2 879.5L466.8 875.4L467.1 900.2L467.4 925L468 917.3Q468.7 909.6 469.3 902.6Q469.9 895.6 470.6 889.7Q471.2 883.7 471.8 879.7L472.5 875.6L472.8 901.1L473.1 926.7L473.7 918.8Q474.4 910.8 475 903.7Q475.6 896.5 476.3 890.4Q476.9 884.3 477.6 880.1L478.2 875.9L478.5 901.2L478.8 926.5L479.5 918.4Q480.1 910.3 480.7 903Q481.4 895.7 482 889.4Q482.7 883.2 483.3 878.9L484 874.6L484.3 899.3L484.6 924L485.3 916.2Q485.9 908.4 486.6 901.3Q487.2 894.2 487.9 888.2Q488.5 882.1 489.2 878L489.8 873.8L490.1 899L490.4 924.2L491.1 916.5Q491.8 908.7 492.4 901.7Q493.1 894.7 493.8 888.7Q494.4 882.7 495.1 878.6L495.8 874.5L496.1 900.1L496.4 925.7L497 917.5Q497.7 909.3 498.4 901.9Q499 894.5 499.7 888.2Q500.4 881.8 501.1 877.5L501.7 873.2L502 899.3L502.3 925.4L503 917.4Q503.7 909.4 504.4 902.2Q505 895 505.7 888.8Q506.4 882.7 507.1 878.4L507.7 874.2L508 901L508.3 927.9L509 919.2Q509.7 910.5 510.4 902.7Q511.1 894.9 511.8 888.2Q512.5 881.5 513.2 876.9L513.8 872.3L514.1 900.4L514.4 928.5L515.1 919.9Q515.8 911.2 516.5 903.4Q517.2 895.5 517.9 888.8Q518.6 882.1 519.3 877.6L520 873L520.3 900.1L520.6 927.2L521.3 919Q522 910.7 522.7 903.3Q523.4 895.9 524.1 889.6Q524.8 883.2 525.5 878.9L526.2 874.5L526.5 901.3L526.8 928L527.5 919.4Q528.2 910.8 528.9 903.1Q529.6 895.4 530.3 888.7Q531.1 882.1 531.8 877.6L532.5 873L532.8 900.5L533.1 927.9L533.8 919.4Q534.5 910.9 535.2 903.2Q535.9 895.5 536.7 889Q537.4 882.4 538.1 877.9L538.8 873.4L539.1 900.5L539.4 927.5L540.1 919Q540.9 910.5 541.6 902.8Q542.3 895.1 543 888.5Q543.8 882 544.5 877.5L545.2 873L545.5 899.8L545.8 926.7L546.5 918.5Q547.3 910.2 548 902.8Q548.7 895.4 549.5 889Q550.2 882.6 550.9 878.3L551.7 873.9L552 900.4L552.3 926.9L553 918.3Q553.7 909.8 554.5 902.1Q555.2 894.4 556 887.8Q556.7 881.2 557.5 876.7L558.2 872.2L558.5 898.7L558.8 925.1L559.5 916.8Q560.3 908.4 561 900.8Q561.8 893.2 562.5 886.8Q563.3 880.3 564 875.9L564.8 871.4L565.1 898.4L565.4 925.3L566.1 917.2Q566.9 909.1 567.7 901.8Q568.4 894.5 569.2 888.3Q569.9 882 570.7 877.7L571.4 873.4L571.7 898.4L572 923.3L572.8 915.3Q573.6 907.3 574.3 900Q575.1 892.8 575.9 886.6Q576.6 880.4 577.4 876.2L578.2 872L578.5 898.2L578.8 924.5L579.5 916.2Q580.3 907.9 581.1 900.4Q581.9 892.9 582.6 886.5Q583.4 880.1 584.2 875.7L585 871.4L585.3 897.7L585.6 924.1L586.3 915.7Q587.1 907.2 587.9 899.6Q588.7 892 589.5 885.4Q590.3 878.9 591 874.4L591.8 870L592.1 896L592.4 922L593.2 914.1Q594 906.2 594.8 899.1Q595.6 892.1 596.4 886Q597.2 879.9 598 875.8L598.7 871.6L599 897.2L599.3 922.7L600.1 914.7Q600.9 906.7 601.7 899.5Q602.5 892.2 603.3 886Q604.1 879.9 604.9 875.6L605.7 871.4L606 896.6L606.3 921.9L607.2 914Q608 906.1 608.8 899Q609.6 891.9 610.4 885.8Q611.2 879.7 612 875.5L612.8 871.3L613.1 897L613.4 922.6L614.2 914.6Q615 906.5 615.8 899.3Q616.7 892.1 617.5 885.9Q618.3 879.7 619.1 875.4L619.9 871.2L620.2 895.6L620.5 920.1L621.3 912.1Q622.1 904.1 623 896.9Q623.8 889.7 624.6 883.5Q625.4 877.4 626.2 873.2L627.1 868.9L627.4 895.6L627.7 922.3L628.5 914.2Q629.3 906.2 630.1 898.9Q631 891.6 631.8 885.4Q632.6 879.2 633.4 875L634.3 870.7L634.6 895.5L634.9 920.3L635.7 912.3Q636.5 904.4 637.4 897.2Q638.2 890 639 883.9Q639.8 877.7 640.7 873.5L641.5 869.3L641.8 894.3L642.1 919.3L642.9 911.7Q643.8 904.1 644.6 897.3Q645.5 890.4 646.3 884.5Q647.1 878.6 648 874.6L648.8 870.6L649.1 894.6L649.4 918.6L650.3 911Q651.1 903.4 651.9 896.6Q652.8 889.8 653.6 884Q654.5 878.1 655.3 874.1L656.2 870.1L656.5 894.4L656.8 918.6L657.6 911.1Q658.5 903.6 659.3 896.8Q660.2 890 661 884.2Q661.9 878.4 662.7 874.4L663.6 870.4L663.9 893.8L664.2 917.2L665 909.9Q665.9 902.6 666.7 896Q667.6 889.4 668.5 883.8Q669.3 878.2 670.2 874.3L671 870.4L671.3 892.9L671.6 915.4L672.5 908.6Q673.4 901.9 674.2 895.8Q675.1 889.7 676 884.5Q676.8 879.2 677.7 875.7L678.5 872.1L678.8 894.4L679.1 916.7L680 909.7Q680.9 902.7 681.8 896.3Q682.6 890 683.5 884.6Q684.4 879.2 685.2 875.5L686.1 871.7L686.4 892.8L686.7 913.8L687.6 907.2Q688.5 900.5 689.3 894.5Q690.2 888.5 691.1 883.4Q692 878.3 692.8 874.7L693.7 871.2L694 894.6L694.3 918L695.2 911Q696.1 903.9 697 897.6Q697.9 891.2 698.7 885.8Q699.6 880.3 700.5 876.6L701.4 872.9L701.7 899.1L702 925.2L702.9 916.8Q703.8 908.3 704.7 900.7Q705.6 893.1 706.4 886.5Q707.3 880 708.2 875.5L709.1 871.1L709.4 899.2L709.7 927.3L710.6 918.8Q711.5 910.2 712.4 902.5Q713.3 894.8 714.2 888.2Q715.1 881.6 716 877.1L716.9 872.6L717.2 900.7L717.5 928.8L718.4 919.9Q719.3 910.9 720.2 902.8Q721.1 894.8 722 887.8Q722.9 880.9 723.8 876.2L724.7 871.5L725 900.7L725.3 929.9L726.2 921.1Q727.1 912.2 728.1 904.2Q729 896.1 729.9 889.3Q730.8 882.4 731.7 877.7L732.6 873L732.9 901.5L733.2 930L734.1 921.1Q735 912.2 736 904.2Q736.9 896.2 737.8 889.3Q738.7 882.5 739.6 877.8L740.6 873.1L740.9 902.7L741.2 932.2L742.1 922.8Q743 913.3 743.9 904.7Q744.9 896.2 745.8 888.9Q746.7 881.5 747.6 876.5L748.5 871.5L748.8 901.8L749.1 932.1L750.1 922.9Q751 913.7 751.9 905.4Q752.9 897.1 753.8 890Q754.7 882.9 755.7 878L756.6 873.2L756.9 902.2L757.2 931.2L758.1 921.9Q759.1 912.5 760 904Q761 895.6 761.9 888.3Q762.8 881.1 763.8 876.1L764.7 871.2L765 901.4L765.3 931.6L766.3 922.3Q767.2 913 768.1 904.6Q769.1 896.2 770 889.1Q771 881.9 771.9 877L772.9 872.1L773.2 902.9L773.5 933.6L774.4 924.2Q775.4 914.7 776.3 906.1Q777.3 897.6 778.2 890.3Q779.2 882.9 780.1 877.9L781.1 872.9L781.4 902.5L781.7 932.1L782.7 922.5Q783.6 913 784.6 904.4Q785.5 895.8 786.5 888.5Q787.5 881.1 788.4 876.1L789.4 871.1L789.7 902.2L790 933.3L790.9 923.9Q791.9 914.4 792.9 905.9Q793.9 897.4 794.8 890.2Q795.8 882.9 796.8 877.9L797.7 872.9L798 902.7L798.3 932.5L799.3 923.2Q800.3 913.9 801.2 905.5Q802.2 897.1 803.2 889.9Q804.2 882.7 805.1 877.8L806.1 872.9L806.4 902.5L806.7 932.2L807.7 922.6Q808.7 913.1 809.7 904.4Q810.6 895.8 811.6 888.4Q812.6 881 813.6 875.9L814.6 870.9L814.9 901.4L815.2 931.8L816.2 922.6Q817.2 913.4 818.2 905.1Q819.1 896.8 820.1 889.7Q821.1 882.6 822.1 877.7L823.1 872.9L823.4 902.4L823.7 932L824.7 922.5Q825.7 913.1 826.7 904.6Q827.7 896.1 828.7 888.8Q829.7 881.5 830.7 876.5L831.7 871.5L832 901.6L832.3 931.6L833.3 922.3Q834.3 913 835.3 904.5Q836.3 896.1 837.3 888.9Q838.4 881.6 839.4 876.7L840.4 871.8L840.7 901.2L841 930.6L842 921.6Q843 912.7 844 904.6Q845 896.5 846.1 889.6Q847.1 882.7 848.1 878L849.1 873.3L849.4 903L849.7 932.6L850.7 922.9Q851.8 913.3 852.8 904.5Q853.8 895.7 854.8 888.3Q855.9 880.8 856.9 875.6L857.9 870.5L858.2 900.4L858.5 930.3L859.5 921.4Q860.6 912.5 861.6 904.4Q862.6 896.4 863.7 889.5Q864.7 882.6 865.7 877.9L866.8 873.1L867.1 900.1L867.4 927.1L868.4 918.5Q869.5 909.8 870.5 902Q871.6 894.2 872.6 887.6Q873.6 880.9 874.7 876.4L875.7 871.8L876 895.8L876.3 919.7L877.4 912.5Q878.4 905.2 879.5 898.7Q880.5 892.1 881.6 886.5Q882.6 880.9 883.7 877.1L884.7 873.3L885 894.1L885.3 915L886.4 908.4Q887.5 901.8 888.5 895.8Q889.6 889.9 890.7 884.8Q891.7 879.7 892.8 876.2L893.8 872.7L894.1 889.7L894.4 906.6L895.5 901.3Q896.6 896 897.6 891.2Q898.7 886.4 899.8 882.2Q900.9 878.1 901.9 875.3L903 872.5L906.1 870.7L909.2 868.9L909.8 881.4L910.4 893.9L911 889.6Q911.7 885.4 912.4 881.9Q913 878.3 913.7 875.6Q914.4 872.9 915 870.9Q915.7 869 916.4 867.8Q917 866.7 917.7 866.3Q918.4 865.9 920.6 865.1L922.8 864.4L923.4 882.7L924 901L924.7 894.9Q925.3 888.9 926 883.9Q926.7 879 927.3 875.1Q928 871.3 928.7 868.5Q929.3 865.7 930 864.1Q930.7 862.4 931.3 861.9Q932 861.3 933 861L933.9 860.7L934.5 876L935.1 891.3L935.9 886.1Q936.6 880.9 937.4 876.6Q938.1 872.4 938.9 869.1Q939.6 865.8 940.4 863.4Q941.1 861.1 941.9 859.7Q942.6 858.2 943.4 857.8Q944.1 857.3 949.6 855.5L955.1 853.6L955.7 867.1L956.3 880.7L957.2 875.9Q958 871.1 958.8 867.2Q959.7 863.2 960.5 860.2Q961.3 857.1 962.2 855Q963 852.8 963.8 851.5Q964.7 850.2 965.5 849.7Q966.3 849.3 971.5 847.1L976.7 844.9L977.3 863.2L977.9 881.6L978.8 875.2Q979.7 868.8 980.7 863.5Q981.6 858.3 982.5 854.2Q983.4 850.2 984.3 847.3Q985.2 844.4 986.2 842.6Q987.1 840.9 988 840.3Q988.9 839.7 1001.2 833.5L1013.5 827.3L1014.1 847.8L1014.7 868.3L1015.8 860.8Q1016.8 853.3 1017.9 847.1Q1019 841 1020.1 836.2Q1021.2 831.4 1022.3 828Q1023.3 824.6 1024.4 822.5Q1025.5 820.5 1026.6 819.8Q1027.7 819.1 1031.2 817.1L1034.7 815.1L1035.3 839.9L1035.9 864.8L1037.1 855.9Q1038.2 847.1 1039.4 839.9Q1040.6 832.7 1041.7 827.1Q1042.9 821.5 1044.1 817.5Q1045.2 813.5 1046.4 811.1Q1047.6 808.7 1048.7 807.9Q1049.9 807.1 1056.7 803.7L1063.5 800.2L1064.1 825.4L1064.7 850.6L1066 842.2Q1067.4 833.8 1068.7 826.9Q1070 820 1071.4 814.6Q1072.7 809.3 1074 805.5Q1075.4 801.6 1076.7 799.3Q1078 797 1079.4 796.3Q1080.7 795.5 1084 794.6L1087.4 793.7L1088 823.1L1088.6 852.4L1089.9 842.8Q1091.2 833.3 1092.6 825.4Q1093.9 817.6 1095.2 811.5Q1096.6 805.5 1097.9 801.1Q1099.2 796.8 1100.6 794.2Q1101.9 791.6 1103.2 790.7Q1104.6 789.8 1113.1 788.2Q1121.6 786.6 1128.7 783.5L1135.8 780.4L1136.6 807.1L1137.5 833.8L1138.5 826.7Q1139.6 819.6 1140.6 813.6Q1141.6 807.6 1142.6 802.6Q1143.6 797.6 1144.6 793.6Q1145.7 789.5 1146.7 786.4Q1147.7 783.3 1148.7 781Q1149.7 778.6 1150.7 777Q1151.8 775.5 1152.8 774.5Q1153.8 773.5 1154.8 773.1Q1155.8 772.6 1156.8 772.5L1157.9 772.4L1158.6 801.4L1159.3 830.3L1160.2 823.1Q1161.2 815.9 1162.1 809.8Q1163.1 803.7 1164 798.6Q1164.9 793.5 1165.9 789.5Q1166.8 785.4 1167.8 782.2Q1168.7 779 1169.7 776.7Q1170.6 774.3 1171.6 772.7Q1172.5 771.1 1173.5 770.1Q1174.4 769.1 1175.4 768.7Q1176.3 768.2 1177.2 768.1Q1178.2 768 1185.3 765.8Q1192.3 763.6 1202.1 761.4L1211.8 759.2L1212.7 785.9L1213.5 812.6L1214.5 805.7Q1215.4 798.8 1216.3 793Q1217.3 787.1 1218.2 782.3Q1219.1 777.4 1220 773.5Q1221 769.6 1221.9 766.6Q1222.8 763.5 1223.8 761.3Q1224.7 759 1225.6 757.5Q1226.5 755.9 1227.5 755Q1228.4 754 1229.3 753.6Q1230.2 753.2 1231.2 753.1L1232.1 753L1233.2 782.8L1234.2 812.6L1235.2 805Q1236.2 797.4 1237.2 790.9Q1238.2 784.5 1239.2 779.1Q1240.2 773.8 1241.2 769.5Q1242.2 765.1 1243.2 761.8Q1244.2 758.4 1245.2 755.9Q1246.2 753.5 1247.2 751.7Q1248.2 750 1249.2 749Q1250.2 748 1251.2 747.5Q1252.2 747 1253.2 746.9Q1254.2 746.8 1255.1 745.3Q1255.9 743.8 1271.8 738.9Q1287.7 734.1 1293 732.7L1298.3 731.4L1299.2 761.2L1300.1 791.1L1300.9 784.2Q1301.7 777.3 1302.5 771.2Q1303.3 765.2 1304.1 760Q1304.9 754.8 1305.7 750.4Q1306.5 746 1307.3 742.4Q1308.1 738.9 1308.9 736Q1309.6 733.2 1310.4 731.1Q1311.2 729.1 1312 727.7Q1312.8 726.3 1313.6 725.5Q1314.4 724.8 1315.2 724.6L1316 724.3L1317.6 756.8L1319.2 789.3L1320.2 781.2Q1321.2 773 1322.2 766.1Q1323.2 759.3 1324.1 753.5Q1325.1 747.8 1326.1 743.2Q1327.1 738.6 1328.1 735Q1329.1 731.5 1330.1 728.8Q1331.1 726.2 1332.1 724.3Q1333.1 722.5 1334 721.4Q1335 720.3 1336 719.8Q1337 719.3 1338 719.2Q1339 719 1351.4 715.5Q1363.7 712 1377 707.6L1390.3 703.1L1391.3 734.7L1392.4 766.3L1393.4 758.9Q1394.5 751.4 1395.5 744.9Q1396.5 738.4 1397.6 732.8Q1398.6 727.2 1399.7 722.4Q1400.7 717.7 1401.8 713.8Q1402.8 710 1403.9 706.9Q1404.9 703.9 1405.9 701.6Q1407 699.4 1408 697.9Q1409.1 696.4 1410.1 695.6Q1411.2 694.7 1412.2 694.5L1413.2 694.3L1414.1 729L1415 763.7L1415.9 754.1Q1416.8 744.6 1417.7 736.8Q1418.5 729 1419.4 722.7Q1420.3 716.5 1421.2 711.7Q1422.1 706.9 1423 703.3Q1423.8 699.7 1424.7 697.2Q1425.6 694.7 1426.5 693.1Q1427.4 691.6 1428.3 690.7Q1429.1 689.8 1430 689.5Q1430.9 689.1 1431.8 689.1Q1432.7 689 1436.2 687.7Q1439.8 686.3 1454.8 682.4Q1469.8 678.4 1480.4 675.3L1491 672.2L1491.5 704.7L1491.9 737.1L1492.7 728.7Q1493.6 720.3 1494.4 713.1Q1495.3 706 1496.1 700.1Q1496.9 694.1 1497.8 689.4Q1498.6 684.6 1499.5 680.9Q1500.3 677.1 1501.1 674.4Q1502 671.6 1502.8 669.7Q1503.7 667.8 1504.5 666.7Q1505.3 665.5 1506.2 665Q1507 664.5 1507.9 664.4Q1508.7 664.2 1512.2 663.8L1515.8 663.4L1516.2 700.3L1516.6 737.1L1517.5 727.9Q1518.3 718.6 1519.2 710.8Q1520 702.9 1520.8 696.5Q1521.7 690 1522.5 684.7Q1523.4 679.5 1524.2 675.4Q1525 671.3 1525.9 668.3Q1526.7 665.3 1527.6 663.2Q1528.4 661.1 1529.2 659.9Q1530.1 658.6 1530.9 658Q1531.8 657.4 1532.6 657.3Q1533.4 657.2 1545.8 654.1Q1558.2 651 1567 647.9Q1575.9 644.8 1585.6 641.3L1595.3 637.7L1596 673.7L1596.7 709.7L1597.5 700.5Q1598.2 691.2 1598.9 683.4Q1599.6 675.5 1600.4 669.1Q1601.1 662.6 1601.8 657.3Q1602.5 652.1 1603.2 648Q1604 643.9 1604.7 640.9Q1605.4 637.9 1606.1 635.8Q1606.9 633.7 1607.6 632.5Q1608.3 631.2 1609 630.6Q1609.8 630 1610.5 629.9Q1611.2 629.8 1615.2 628.9L1619.2 628L1619.8 668L1620.4 708L1621.2 698.1Q1622 688.2 1622.7 679.9Q1623.5 671.5 1624.3 664.6Q1625.1 657.7 1625.9 652.1Q1626.6 646.5 1627.4 642.1Q1628.2 637.8 1629 634.6Q1629.7 631.3 1630.5 629.1Q1631.3 626.9 1632.1 625.6Q1632.9 624.2 1633.6 623.6Q1634.4 623 1635.2 622.8Q1636 622.7 1641.3 621.8Q1646.6 620.9 1654.5 618.7Q1662.5 616.5 1664.1 611.7L1665.7 606.8L1665.7 914.1L1665.7 1221.5"/>
<path class="c" stroke="#000000" d="M214.5 1221.5Q222.5 1090 226.4 1025Q230.4 960 231.8 943.8Q233.2 927.6 234.2 913.7Q235.3 899.7 236.6 885.7Q237.8 871.7 239.4 857.8Q240.9 843.8 243.9 829.8Q246.9 815.9 249.4 808.9Q251.8 801.9 254.2 795.2Q256.7 788.5 259.4 784.8Q262 781 264.8 779.7Q267.6 778.4 268.8 779.7Q270 781 270.3 831L270.6 881L272.1 848.5L273.5 816L275 842L276.5 868L277.8 843L279 818L280.5 844L282 870L283.5 847L285 824L286.2 853L287.5 882L287.8 882.3L288.1 882.6L288.6 874Q289.1 865.4 289.6 857.6Q290.1 849.8 290.7 843.2Q291.2 836.5 291.7 831.9L292.2 827.4L292.5 855.3L292.8 883.3L293.3 874.5Q293.8 865.8 294.3 857.9Q294.8 850.1 295.4 843.3Q295.9 836.6 296.4 832L296.9 827.4L297.2 856.5L297.5 885.5L298 876.2Q298.5 866.9 299.1 858.5Q299.6 850.1 300.1 843Q300.6 835.8 301.1 830.9L301.6 825.9L301.9 856.6L302.2 887.3L302.8 877.3Q303.3 867.4 303.8 858.3Q304.3 849.3 304.8 841.6Q305.4 833.9 305.9 828.6L306.4 823.3L306.7 855.9L307 888.4L307.5 878.1Q308 867.8 308.6 858.4Q309.1 849.1 309.6 841.1Q310.1 833.1 310.7 827.7L311.2 822.2L311.5 855.3L311.8 888.5L312.3 878Q312.8 867.5 313.4 858Q313.9 848.5 314.4 840.4Q314.9 832.3 315.5 826.8L316 821.2L316.3 856L316.6 890.8L317.1 880Q317.6 869.1 318.2 859.3Q318.7 849.5 319.2 841.1Q319.8 832.7 320.3 827L320.8 821.3L321.1 855.1L321.4 888.9L321.9 878.1Q322.5 867.2 323 857.4Q323.5 847.6 324.1 839.2Q324.6 830.9 325.1 825.1L325.7 819.4L326 855.3L326.3 891.2L326.8 880.2Q327.3 869.1 327.9 859.1Q328.4 849.1 328.9 840.5Q329.5 832 330 826.1L330.6 820.3L330.9 854.9L331.2 889.5L331.7 878.5Q332.2 867.6 332.8 857.7Q333.3 847.8 333.8 839.4Q334.4 830.9 334.9 825.1L335.5 819.4L335.8 853.9L336.1 888.3L336.6 877.7Q337.1 867 337.7 857.3Q338.2 847.7 338.8 839.4Q339.3 831.2 339.8 825.5L340.4 819.9L340.7 854.5L341 889.1L341.5 878.1Q342.1 867.2 342.6 857.3Q343.2 847.3 343.7 838.9Q344.3 830.4 344.8 824.6L345.3 818.8L345.6 853.7L345.9 888.6L346.5 877.2Q347 865.8 347.6 855.6Q348.1 845.3 348.7 836.5Q349.2 827.7 349.8 821.7L350.3 815.7L350.6 853.3L350.9 890.8L351.5 879.1Q352 867.3 352.6 856.7Q353.1 846.1 353.7 837Q354.2 827.9 354.8 821.7L355.3 815.5L355.6 852.8L355.9 890.1L356.5 878.3Q357 866.5 357.6 855.8Q358.1 845.1 358.7 836Q359.3 826.9 359.8 820.7L360.4 814.4L360.7 851.9L361 889.4L361.5 877.8Q362.1 866.2 362.6 855.8Q363.2 845.3 363.7 836.4Q364.3 827.4 364.9 821.3L365.4 815.2L365.7 851.8L366 888.4L366.6 876.8Q367.1 865.3 367.7 854.8Q368.3 844.3 368.8 835.4Q369.4 826.4 369.9 820.3L370.5 814.2L370.8 851.3L371.1 888.5L371.7 876.5Q372.2 864.6 372.8 853.8Q373.4 843 373.9 833.8Q374.5 824.6 375 818.3L375.6 812L375.9 850.4L376.2 888.8L376.8 877Q377.3 865.2 377.9 854.6Q378.5 843.9 379 834.8Q379.6 825.7 380.2 819.5L380.7 813.2L381 851.1L381.3 888.9L381.9 876.8Q382.5 864.7 383.1 853.8Q383.6 842.8 384.2 833.5Q384.8 824.2 385.3 817.8L385.9 811.4L386.2 849.5L386.5 887.6L387.1 875.6Q387.6 863.7 388.2 852.9Q388.8 842.2 389.4 832.9Q389.9 823.7 390.5 817.4L391.1 811.1L391.4 849.8L391.7 888.4L392.3 876.4Q392.8 864.4 393.4 853.6Q394 842.7 394.6 833.5Q395.1 824.2 395.7 817.8L396.3 811.5L396.6 849.6L396.9 887.6L397.5 875.4Q398.1 863.1 398.6 852Q399.2 840.9 399.8 831.5Q400.4 822 401 815.5L401.5 809L401.8 848.6L402.1 888.2L402.7 875.9Q403.3 863.5 403.9 852.4Q404.5 841.3 405.1 831.8Q405.6 822.2 406.2 815.7L406.8 809.2L407.1 847.6L407.4 885.9L408 873.9Q408.6 862 409.2 851.1Q409.7 840.3 410.3 831.1Q410.9 821.8 411.5 815.5L412.1 809.1L412.4 847L412.7 885L413.3 873.2Q413.9 861.4 414.5 850.7Q415.1 840.1 415.6 830.9Q416.2 821.8 416.8 815.6L417.4 809.3L417.7 847.9L418 886.5L418.6 874.2Q419.2 861.8 419.8 850.6Q420.4 839.4 421 829.8Q421.6 820.2 422.2 813.7L422.8 807.1L423.1 846.1L423.4 885.2L424 872.8Q424.5 860.4 425.1 849.2Q425.7 838.1 426.3 828.5Q426.9 818.9 427.5 812.4L428.1 805.8L428.4 845.5L428.7 885.3L429.3 872.8Q429.9 860.2 430.5 848.9Q431.1 837.6 431.7 827.9Q432.3 818.3 432.9 811.6L433.5 805L433.8 844.7L434.1 884.5L434.7 872.4Q435.3 860.3 435.9 849.3Q436.5 838.4 437.1 829Q437.7 819.7 438.3 813.3L439 806.9L439.3 845L439.6 883.1L440.2 871.2Q440.8 859.3 441.4 848.6Q442 837.8 442.6 828.6Q443.2 819.4 443.8 813.1L444.4 806.8L444.7 845.2L445 883.5L445.6 871.4Q446.2 859.3 446.8 848.3Q447.4 837.4 448.1 828Q448.7 818.6 449.3 812.2L449.9 805.8L450.2 844.2L450.5 882.6L451.1 870.5Q451.7 858.4 452.3 847.4Q452.9 836.5 453.6 827.1Q454.2 817.8 454.8 811.4L455.4 805L455.7 844.3L456 883.6L456.6 871.4Q457.2 859.2 457.9 848.2Q458.5 837.1 459.1 827.7Q459.7 818.3 460.3 811.8L461 805.3L461.3 843.8L461.6 882.2L462.2 870Q462.8 857.7 463.4 846.7Q464.1 835.6 464.7 826.1Q465.3 816.7 465.9 810.2L466.6 803.7L466.9 842.8L467.2 881.8L467.8 869.4Q468.4 856.9 469.1 845.6Q469.7 834.4 470.3 824.7Q471 815.1 471.6 808.5L472.2 801.9L472.5 842.1L472.8 882.2L473.5 869.9Q474.1 857.6 474.8 846.5Q475.4 835.4 476.1 825.9Q476.7 816.3 477.3 809.8L478 803.3L478.3 841.4L478.6 879.4L479.2 867.6Q479.9 855.8 480.5 845.1Q481.2 834.4 481.8 825.2Q482.5 816.1 483.1 809.8L483.8 803.6L484.1 841.9L484.4 880.3L485 868.1Q485.7 855.9 486.3 844.8Q487 833.8 487.6 824.3Q488.3 814.9 489 808.4L489.6 802L489.9 840.6L490.2 879.3L490.9 867.1Q491.5 854.8 492.2 843.7Q492.9 832.6 493.5 823Q494.2 813.5 494.9 807L495.5 800.6L495.8 839.2L496.1 877.9L496.8 865.9Q497.5 853.9 498.1 843Q498.8 832.1 499.5 822.8Q500.1 813.5 500.8 807.1L501.5 800.8L501.8 840.2L502.1 879.7L502.8 867.3Q503.4 854.9 504.1 843.7Q504.8 832.5 505.5 822.9Q506.1 813.3 506.8 806.7L507.5 800.2L507.8 839L508.1 877.7L508.8 865.6Q509.5 853.5 510.2 842.6Q510.8 831.7 511.5 822.3Q512.2 813 512.9 806.6L513.6 800.2L513.9 839.8L514.2 879.4L514.9 867.1Q515.6 854.9 516.3 843.8Q517 832.7 517.6 823.2Q518.3 813.7 519 807.2L519.7 800.8L520 839.2L520.3 877.7L521 865.5Q521.7 853.3 522.4 842.3Q523.1 831.3 523.8 821.9Q524.5 812.4 525.2 806L525.9 799.5L526.2 839.2L526.5 878.8L527.2 866.6Q528 854.5 528.7 843.5Q529.4 832.5 530.1 823.1Q530.8 813.6 531.5 807.2L532.2 800.8L532.5 839.6L532.8 878.4L533.5 866.4Q534.2 854.4 534.9 843.5Q535.7 832.7 536.4 823.4Q537.1 814.1 537.8 807.7L538.5 801.4L538.8 839L539.1 876.7L539.9 864.6Q540.6 852.6 541.3 841.7Q542 830.8 542.8 821.5Q543.5 812.1 544.2 805.8L544.9 799.4L545.2 838.6L545.5 877.9L546.3 865.6Q547 853.4 547.7 842.3Q548.5 831.3 549.2 821.8Q549.9 812.3 550.6 805.9L551.4 799.4L551.7 837.3L552 875.2L552.7 863.6Q553.5 852.1 554.2 841.6Q554.9 831.2 555.7 822.2Q556.4 813.3 557.2 807.2L557.9 801L558.2 838.1L558.5 875.2L559.3 863.2Q560 851.2 560.7 840.3Q561.5 829.5 562.2 820.2Q563 810.9 563.7 804.6L564.5 798.3L564.8 837L565.1 875.6L565.8 863.6Q566.6 851.5 567.4 840.5Q568.1 829.6 568.9 820.3Q569.6 810.9 570.4 804.5L571.1 798.1L571.4 836.4L571.7 874.6L572.5 862.8Q573.3 851 574 840.4Q574.8 829.7 575.6 820.6Q576.3 811.5 577.1 805.2L577.9 799L578.2 836.9L578.5 874.8L579.2 862.6Q580 850.5 580.8 839.5Q581.6 828.5 582.3 819.1Q583.1 809.7 583.9 803.2L584.6 796.8L584.9 835.9L585.2 874.9L586 862.9Q586.8 850.8 587.6 839.9Q588.4 829 589.2 819.7Q589.9 810.4 590.7 804L591.5 797.7L591.8 836.3L592.1 875L592.9 863.2Q593.7 851.4 594.5 840.7Q595.3 830 596.1 820.9Q596.8 811.7 597.6 805.5L598.4 799.2L598.7 836.8L599 874.4L599.8 862.4Q600.6 850.3 601.4 839.4Q602.2 828.5 603 819.2Q603.8 809.9 604.6 803.5L605.4 797.1L605.7 834.9L606 872.6L606.8 860.8Q607.6 849 608.4 838.3Q609.2 827.6 610 818.5Q610.9 809.4 611.7 803.1L612.5 796.9L612.8 835.9L613.1 874.9L613.9 862.7Q614.7 850.5 615.5 839.5Q616.3 828.5 617.1 819.1Q617.9 809.7 618.8 803.2L619.6 796.8L619.9 835.9L620.2 875L621 862.6Q621.8 850.3 622.6 839.2Q623.4 828 624.3 818.5Q625.1 808.9 625.9 802.4L626.7 795.9L627 834.8L627.3 873.7L628.1 861.2Q629 848.7 629.8 837.4Q630.6 826.1 631.4 816.4Q632.3 806.8 633.1 800.2L633.9 793.6L634.2 834L634.5 874.4L635.3 861.5Q636.2 848.7 637 837Q637.8 825.4 638.7 815.4Q639.5 805.5 640.3 798.6L641.2 791.8L641.5 832.2L641.8 872.6L642.6 859.8Q643.4 846.9 644.3 835.3Q645.1 823.7 645.9 813.8Q646.8 803.9 647.6 797.1L648.5 790.3L648.8 825.6L649.1 860.9L649.9 849.7Q650.7 838.6 651.6 828.5Q652.4 818.4 653.3 809.8Q654.1 801.1 655 795.2L655.8 789.3L656.2 834.7L656.6 880L657.4 864.4Q658.2 848.8 659 835.6Q659.8 822.5 660.6 812.3Q661.4 802.1 662.2 796.6L663 791L663.3 826L663.6 861L664.2 848.9Q664.9 836.8 665.5 826.6Q666.2 816.4 666.9 808.5Q667.5 800.6 668.1 796.3L668.8 792L669.2 836.5L669.6 881L670 864.2Q670.3 847.4 670.7 833.1Q671 818.9 671.4 808Q671.8 797 672.1 791L672.5 785L672.9 833L673.3 881L673.8 869.1Q674.3 857.2 674.9 847.1Q675.4 837 675.9 829.3Q676.5 821.5 677 817.2L677.5 813L677.9 847.5L678.3 882L679.1 870.1Q679.8 858.2 680.6 848.1Q681.4 838 682.2 830.3Q683 822.5 683.7 818.2L684.5 814L684.8 848.1L685.1 882.1L686 871.5Q686.8 860.8 687.7 851.2Q688.6 841.6 689.5 833.4Q690.3 825.2 691.2 819.6L692.1 813.9L692.4 849.1L692.7 884.3L693.6 873.2Q694.4 862.1 695.3 852.1Q696.2 842.1 697.1 833.6Q698 825 698.8 819.2L699.7 813.3L700 848.5L700.3 883.7L701.2 872.7Q702.1 861.7 703 851.8Q703.9 841.9 704.8 833.4Q705.7 824.9 706.5 819.1L707.4 813.3L707.7 848.1L708 882.9L708.9 872.6Q709.8 862.2 710.7 852.9Q711.6 843.5 712.5 835.5Q713.4 827.5 714.3 822L715.2 816.6L715.5 850.9L715.8 885.2L716.7 874.4Q717.6 863.5 718.5 853.7Q719.4 843.8 720.3 835.4Q721.2 827 722.1 821.3L723 815.5L723.3 850.3L723.6 885.1L724.5 873.8Q725.4 862.6 726.3 852.4Q727.2 842.2 728.1 833.5Q729 824.8 729.9 818.9L730.8 812.9L731.1 849.4L731.4 885.9L732.3 874.7Q733.3 863.5 734.2 853.3Q735.1 843.2 736 834.6Q736.9 825.9 737.8 820L738.7 814L739 849.7L739.3 885.5L740.3 874.2Q741.2 862.9 742.1 852.7Q743 842.5 744 833.8Q744.9 825 745.8 819.1L746.7 813.1L747 849.5L747.3 885.8L748.2 874.1Q749.2 862.4 750.1 851.8Q751 841.2 752 832.2Q752.9 823.1 753.8 816.9L754.7 810.7L755 849.8L755.3 888.9L756.3 876.9Q757.2 864.8 758.1 853.9Q759.1 842.9 760 833.6Q761 824.3 761.9 817.9L762.8 811.5L763.1 850.2L763.4 889L764.4 876.9Q765.3 864.9 766.2 854Q767.2 843.1 768.1 833.7Q769.1 824.4 770 818L771 811.7L771.3 850.5L771.6 889.4L772.5 877.2Q773.5 864.9 774.4 853.8Q775.4 842.8 776.3 833.3Q777.3 823.8 778.2 817.4L779.2 810.9L779.5 849.7L779.8 888.5L780.7 876.2Q781.7 864 782.6 852.9Q783.6 841.8 784.5 832.3Q785.5 822.9 786.4 816.4L787.4 809.9L787.7 850.1L788 890.4L789 878.1Q789.9 865.8 790.9 854.7Q791.9 843.6 792.8 834.1Q793.8 824.6 794.7 818.1L795.7 811.6L796 850.3L796.3 888.9L797.3 876.7Q798.3 864.5 799.2 853.5Q800.2 842.5 801.2 833Q802.1 823.6 803.1 817.2L804.1 810.7L804.4 850.2L804.7 889.6L805.7 877.2Q806.6 864.8 807.6 853.6Q808.6 842.4 809.6 832.8Q810.6 823.2 811.5 816.7L812.5 810.1L812.8 850.9L813.1 891.6L814.1 878.9Q815.1 866.2 816.1 854.7Q817.1 843.2 818.1 833.3Q819.1 823.5 820.1 816.8L821.1 810L821.4 851L821.7 891.9L822.7 879.1Q823.7 866.3 824.7 854.7Q825.7 843.1 826.7 833.1Q827.7 823.2 828.7 816.4L829.7 809.6L830 849.5L830.3 889.4L831.3 877.2Q832.3 865.1 833.4 854.2Q834.4 843.2 835.4 833.8Q836.4 824.5 837.4 818.1L838.5 811.7L838.8 851.3L839.1 890.9L840.1 878.2Q841.1 865.6 842.1 854.2Q843.2 842.8 844.2 833Q845.2 823.3 846.3 816.6L847.3 809.9L847.6 850.3L847.9 890.7L848.9 877.9Q850 865.1 851 853.5Q852.1 842 853.1 832.1Q854.2 822.2 855.2 815.4L856.2 808.6L856.5 848.8L856.8 888.9L857.9 876.8Q859 864.7 860 853.7Q861.1 842.8 862.1 833.4Q863.2 824.1 864.2 817.7L865.3 811.3L865 810.6L864.8 810L865.4 850.2L866 890.4L867 876.2Q867.9 861.9 868.9 849.9Q869.8 837.9 870.8 828.6Q871.7 819.3 872.7 814.2L873.6 809.1L874.2 848.4L874.8 887.7L875.8 873.6Q876.8 859.4 877.8 847.4Q878.8 835.4 879.8 826.2Q880.8 816.9 881.8 811.9L882.8 806.8L883.4 846.4L884 886L885.1 872.1Q886.1 858.2 887.1 846.5Q888.1 834.8 889.1 825.8Q890.1 816.7 891.2 811.8L892.2 806.8L892.8 845.5L893.4 884.2L894.4 870.5Q895.4 856.8 896.4 845.3Q897.4 833.7 898.4 824.8Q899.4 815.9 900.4 811L901.4 806.1L902 844.7L902.6 883.3L903.6 869.5Q904.5 855.6 905.5 844Q906.5 832.3 907.5 823.3Q908.4 814.2 909.4 809.3L910.4 804.4L911 843L911.6 881.6L912.6 867.6Q913.6 853.7 914.6 841.9Q915.6 830.2 916.6 821.1Q917.6 812 918.6 807L919.6 802.1L920.2 840.9L920.8 879.8L921.8 866Q922.8 852.2 923.8 840.6Q924.8 829 925.8 820Q926.8 811 927.8 806.1L928.8 801.2L929.4 840.9L930 880.7L931 867.1Q931.9 853.6 932.9 842.1Q933.9 830.7 934.9 821.8Q935.8 813 936.8 808.1L937.8 803.3L938.4 841.1L939 878.9L940.1 864.9Q941.1 850.9 942.1 839.1Q943.2 827.3 944.2 818.2Q945.2 809 946.3 804L947.3 799.1L947.9 837.7L948.6 876.3L949.6 862Q950.6 847.8 951.6 835.7Q952.6 823.7 953.6 814.4Q954.7 805.1 955.7 800.1L956.7 795L957.3 834.7L957.9 874.5L958.9 860.7Q960 846.9 961 835.3Q962 823.7 963 814.7Q964 805.7 965 800.8L966.1 795.9L966.7 834.7L967.3 873.6L968.4 859.1Q969.5 844.5 970.6 832.2Q971.7 819.9 972.8 810.4Q973.9 800.9 975 795.8L976.1 790.6L976.8 829.4L977.4 868.3L978.5 853.8Q979.6 839.2 980.8 826.9Q981.9 814.6 983 805.1Q984.1 795.6 985.3 790.5L986.4 785.3L987 823.7L987.6 862.1L988.8 847.2Q990 832.2 991.1 819.6Q992.3 806.9 993.5 797.2Q994.7 787.4 995.8 782.1L997 776.8L997.6 815.2L998.2 853.6L999.6 838.6Q1001 823.5 1002.3 810.7Q1003.7 798 1005.1 788.2Q1006.5 778.3 1007.8 773L1009.2 767.6L1009.8 806.2L1010.4 844.8L1011.6 832.1Q1012.8 819.5 1014 808.6Q1015.2 797.7 1016.4 788.9Q1017.5 780 1018.7 773.5Q1019.9 766.9 1021.1 763.7L1022.3 760.5L1023 818.8L1023.7 877.1L1024.6 865.4Q1025.5 853.7 1026.4 843.3Q1027.3 832.9 1028.3 823.9Q1029.2 815 1030.1 807.7Q1031 800.4 1031.9 795Q1032.8 789.7 1033.7 787L1034.7 784.4L1035.1 821.3L1035.5 858.2L1036.5 847Q1037.4 835.9 1038.3 826Q1039.2 816.1 1040.2 807.5Q1041.1 799 1042 792.1Q1043 785.1 1043.9 780Q1044.8 774.9 1045.7 772.4L1046.7 769.9L1047.1 808.5L1047.6 847.1L1048.5 836.1Q1049.5 825.2 1050.5 815.5Q1051.5 805.8 1052.5 797.4Q1053.5 789.1 1054.5 782.3Q1055.5 775.4 1056.4 770.4Q1057.4 765.4 1058.4 763L1059.4 760.5L1060.1 799.4L1060.8 838.3L1061.5 826.1Q1062.2 813.9 1062.9 804.2Q1063.6 794.5 1064.3 787.1Q1065.1 779.7 1065.8 774.3Q1066.5 768.9 1067.2 765.3Q1067.9 761.7 1068.6 759.6Q1069.3 757.5 1070 756.5Q1070.7 755.6 1071.4 755.4Q1072.1 755.2 1074.8 755Q1077.4 754.9 1079.9 755.7L1082.4 756.6L1083.1 794.3L1083.8 832.1L1084.9 821.9Q1085.9 811.7 1087 802.7Q1088 793.7 1089.1 785.9Q1090.2 778.2 1091.2 771.9Q1092.3 765.5 1093.3 760.9Q1094.4 756.2 1095.5 754L1096.5 751.7L1097.2 795L1097.9 838.3L1099 827.1Q1100.1 815.9 1101.2 806Q1102.3 796.1 1103.4 787.6Q1104.5 779.1 1105.6 772.1Q1106.7 765.1 1107.7 760Q1108.8 754.9 1109.9 752.4L1111 749.9L1111.8 787.5L1112.6 825L1113.4 812.2Q1114.2 799.4 1115 789.5Q1115.7 779.5 1116.5 772.2Q1117.3 764.9 1118.1 759.8Q1118.9 754.6 1119.7 751.4Q1120.5 748.1 1121.2 746.3Q1122 744.5 1122.8 743.8Q1123.6 743.1 1124.4 743Q1125.2 742.8 1127.8 743.4Q1130.5 744.1 1133.1 743Q1135.8 741.9 1140.2 740.2Q1144.6 738.4 1149 736.2L1153.4 734L1154.8 773.3L1156.1 812.6L1157.1 802.3Q1158.1 792.1 1159.1 782.9Q1160.1 773.8 1161.1 766Q1162.1 758.1 1163.1 751.7Q1164.1 745.3 1165.1 740.6Q1166.1 736 1167.1 733.6L1168.1 731.3L1168.6 774.2L1169 817L1170.2 805.6Q1171.4 794.2 1172.5 784.1Q1173.7 774 1174.9 765.3Q1176.1 756.6 1177.2 749.5Q1178.4 742.4 1179.6 737.2Q1180.8 732 1182 729.5L1183.1 726.9L1183.5 766.7L1183.8 806.4L1184.6 793.5Q1185.3 780.6 1186 770.3Q1186.7 760 1187.5 752.2Q1188.2 744.3 1188.9 738.6Q1189.6 732.9 1190.4 729Q1191.1 725.2 1191.8 723Q1192.5 720.7 1193.3 719.7Q1194 718.7 1194.7 718.5Q1195.4 718.3 1198.1 716.5Q1200.7 714.6 1202.9 714.8Q1205.1 715 1206.5 715.5L1208 716.1L1207.9 762.2L1207.9 808.2L1209.3 795.3Q1210.7 782.4 1212.1 771.5Q1213.4 760.6 1214.8 751.7Q1216.2 742.7 1217.6 735.8Q1219 728.9 1220.4 723.9Q1221.8 718.9 1223.2 716Q1224.6 713 1225.9 712Q1227.3 711 1228.4 711.4L1229.5 711.9L1230.1 750.3L1230.7 788.8L1231.8 778.2Q1232.9 767.6 1234.1 758.3Q1235.2 748.9 1236.3 740.9Q1237.4 732.8 1238.5 726.3Q1239.6 719.7 1240.8 714.9Q1241.9 710.1 1243 707.7L1244.1 705.3L1244.6 749.2L1245 793.2L1246.1 778.3Q1247.1 763.5 1248.2 752Q1249.2 740.6 1250.3 732.1Q1251.4 723.6 1252.4 717.7Q1253.5 711.7 1254.5 708Q1255.6 704.2 1256.7 702.1Q1257.7 700.1 1258.8 699.2Q1259.8 698.4 1260.9 698.2Q1262 698.1 1264.4 697.6Q1266.8 697.1 1269.7 697Q1272.6 696.8 1276.4 697.3Q1280.3 697.8 1283.2 695.8Q1286.1 693.8 1289 690.9L1291.9 688L1292.7 732.6L1293.4 777.3L1294.6 762.5Q1295.8 747.7 1297 736Q1298.2 724.3 1299.4 715.3Q1300.6 706.3 1301.8 699.7Q1303 693.2 1304.2 688.8Q1305.3 684.5 1306.5 681.9Q1307.7 679.4 1308.9 678.2Q1310.1 677.1 1311.3 676.8Q1312.5 676.6 1315.1 676.8Q1317.8 677 1321.3 675.9L1324.9 674.9L1325.1 725.7L1325.4 776.5L1326.9 760.5Q1328.3 744.5 1329.8 731.4Q1331.3 718.2 1332.8 707.9Q1334.2 697.6 1335.7 690Q1337.2 682.4 1338.7 677.3Q1340.2 672.2 1341.6 669.4Q1343.1 666.7 1344.6 665.9L1346.1 665.1L1346.9 710.6L1347.8 756.2L1349.1 742.6Q1350.4 729 1351.6 717.8Q1352.9 706.7 1354.1 698Q1355.4 689.2 1356.7 682.7Q1357.9 676.3 1359.2 671.9Q1360.5 667.6 1361.7 665.3Q1363 662.9 1364.2 662.2L1365.5 661.6L1366.4 709.8L1367.3 757.9L1368.5 742.9Q1369.7 727.9 1370.9 715.9Q1372.1 703.9 1373.4 694.8Q1374.6 685.6 1375.8 679Q1377 672.3 1378.2 667.9Q1379.4 663.4 1380.6 660.8Q1381.9 658.2 1383.1 657Q1384.3 655.9 1385.5 655.6Q1386.7 655.4 1390.3 655.6Q1393.8 655.8 1397.3 655.1L1400.9 654.5L1401.6 698.7L1402.3 742.9L1403.6 726.6Q1405 710.4 1406.3 697.8Q1407.7 685.2 1409 675.9Q1410.4 666.6 1411.7 660.1Q1413.1 653.6 1414.4 649.4Q1415.8 645.3 1417.1 643Q1418.5 640.8 1419.8 639.8Q1421.1 638.9 1422.5 638.8Q1423.8 638.6 1427.4 638.9Q1430.9 639.1 1434.4 638.4Q1438 637.7 1442 636L1445.9 634.2L1446.4 927.8L1446.9 1221.5"/>
</g>
<g id="ylabels" class="b" text-anchor="end">
<text x="148.2" y="1240.7">0</text>
<text x="148.2" y="1094.2">10</text>
<text x="148.2" y="947.8">20</text>
<text x="148.2" y="801.3">30</text>
<text x="148.2" y="654.8">40</text>
<text x="148.2" y="508.3">50</text>
<text x="148.2" y="361.9">60</text>
<text x="148.2" y="215.4">70</text>
<text x="148.2" y="68.9">80</text>
</g>
<g id="xlabels" class="b" text-anchor="middle">
<text x="213.8" y="1310.0">0</text>
<text x="583.6" y="1310.0">1</text>
<text x="953.4" y="1310.0">2</text>
<text x="1323.1" y="1310.0">3</text>
<text x="1692.9" y="1310.0">4</text>
<text x="2062.7" y="1310.0">5</text>
<text x="2432.5" y="1310.0">6</text>
</g>
<text class="b t" text-anchor="middle" x="1323.3" y="1390.4">Strain [mm/mm]</text>
<text class="b t" text-anchor="middle" transform="translate(58.3 636.6) rotate(-90)">Stress [MPa]</text>
<g id="legend">
<line class="c lg" stroke="#FF99CC" x1="286.2" y1="92.8" x2="365.8" y2="92.8"/>
<text x="373.4" y="111.2">[PBS/GPR10/HDI] - Ti</text>
<line class="c lg" stroke="#FF0000" x1="286.2" y1="166.9" x2="365.8" y2="166.9"/>
<text x="373.4" y="185.3">[PBS/GPR10/Ti] - HDI</text>
<line class="c lg" stroke="#0070C0" x1="286.2" y1="241.0" x2="365.8" y2="241.0"/>
<text x="373.4" y="259.4">[PBS/GPR5/Ti] - HDI</text>
<line class="c lg" stroke="#FFC000" x1="286.2" y1="315.0" x2="365.8" y2="315.0"/>
<text x="373.4" y="333.4">[PBS/GPR10/Ti/HDI]</text>
<line class="c lg" stroke="#FF7F27" x1="286.2" y1="389.1" x2="365.8" y2="389.1"/>
<text x="373.4" y="407.5">PBS/GPR10/HDI</text>
<line class="c lg" stroke="#45AF3F" x1="286.2" y1="463.2" x2="365.8" y2="463.2"/>
<text x="373.4" y="481.6">PBS/GPR10/Ti</text>
<line class="c lg" stroke="#808080" x1="286.2" y1="537.3" x2="365.8" y2="537.3"/>
<text x="373.4" y="555.7">PBS/GPR10</text>
<line class="c lg" stroke="#FFAD7B" x1="286.2" y1="611.4" x2="365.8" y2="611.4"/>
<text x="373.4" y="629.8">PBS/HDI</text>
<line class="c lg" stroke="#94D388" x1="286.2" y1="685.4" x2="365.8" y2="685.4"/>
<text x="373.4" y="703.8">PBS/Ti</text>
<line class="c lg" stroke="#000000" x1="286.2" y1="759.5" x2="365.8" y2="759.5"/>
<text x="373.4" y="777.9">PBS</text>
</g>
</svg>
</body>
</html>
